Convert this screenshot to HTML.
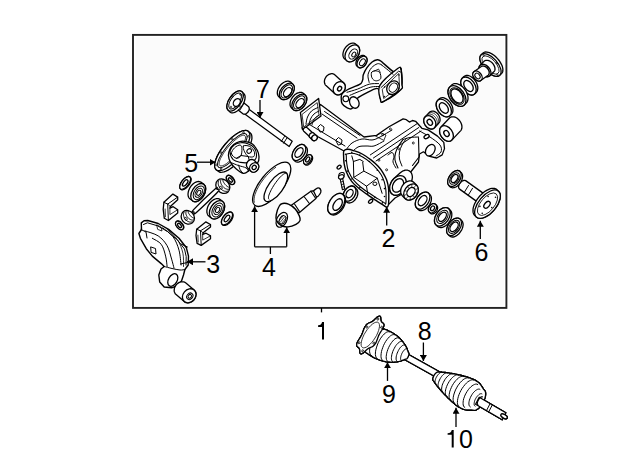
<!DOCTYPE html>
<html><head><meta charset="utf-8">
<style>
html,body{margin:0;padding:0;background:#fff;width:640px;height:471px;overflow:hidden}
svg{display:block}
text{font-family:"Liberation Sans",sans-serif;font-size:25px;fill:#000}
</style></head><body>
<svg width="640" height="471" viewBox="0 0 640 471">
<defs>
<marker id="ah" viewBox="0 0 6 7" refX="6" refY="3.5" markerWidth="6" markerHeight="7" markerUnits="userSpaceOnUse" orient="auto"><path d="M0,0 L6,3.5 L0,7z" fill="#000"/></marker>
</defs>
<rect x="133" y="34.9" width="373.4" height="273" fill="#fff" stroke="#222" stroke-width="1.9"/>
<rect x="135.5" y="37.4" width="368.4" height="268" fill="#fbfbfb" stroke="none"/>
<g id="parts">
<polygon points="479.9,58.5 480,57.3 480.2,56.3 480.7,55.4 481.3,54.7 483.1,53 483.8,52.5 484.7,52.2 485.8,52 486.9,52.1 488.1,52.3 489.4,52.7 490.8,53.3 492.2,54.1 493.6,55 494.9,56.1 496.2,57.3 497.5,58.6 498.7,60 499.7,61.4 500.6,62.9 501.4,64.4 502.1,65.8 502.5,67.2 502.8,68.6 502.9,69.8 502.8,71 502.6,72 502.1,72.9 501.5,73.6 499.7,75.3 499,75.8 498.1,76.1 497,76.3 495.9,76.2 494.7,76 493.4,75.6 492,75 490.6,74.2 489.2,73.2 487.9,72.2 486.6,71 485.3,69.7 484.1,68.3 483.1,66.9 482.2,65.4 481.4,63.9 480.8,62.5 480.3,61.1 480,59.7" fill="#fff" stroke="#000" stroke-width="1.3" stroke-linejoin="round"/>
<ellipse cx="490.5" cy="65" rx="13.8" ry="7" transform="rotate(48 490.5 65)" fill="#fff" stroke="#000" stroke-width="1.3"/>
<ellipse cx="490.5" cy="65" rx="11.3" ry="5.4" transform="rotate(48 490.5 65)" fill="none" stroke="#000" stroke-width="0.8"/>
<ellipse cx="497.4" cy="74.8" rx="0.9" ry="0.7" transform="rotate(48 497.4 74.8)" fill="none" stroke="#000" stroke-width="0.7"/>
<ellipse cx="484.2" cy="66.8" rx="0.9" ry="0.7" transform="rotate(48 484.2 66.8)" fill="none" stroke="#000" stroke-width="0.7"/>
<ellipse cx="483.6" cy="55.2" rx="0.9" ry="0.7" transform="rotate(48 483.6 55.2)" fill="none" stroke="#000" stroke-width="0.7"/>
<ellipse cx="496.8" cy="63.2" rx="0.9" ry="0.7" transform="rotate(48 496.8 63.2)" fill="none" stroke="#000" stroke-width="0.7"/>
<polygon points="479,68.2 479,67.5 479.2,66.8 479.4,66.2 479.8,65.6 480.2,65.2 484.2,61.1 484.7,60.8 485.3,60.5 485.9,60.3 486.6,60.3 487.4,60.3 488.1,60.5 488.9,60.7 489.7,61 490.4,61.5 491.2,62 491.9,62.6 492.6,63.3 493.2,64 493.7,64.8 494.1,65.6 494.5,66.4 494.8,67.2 494.9,68 495,68.8 495,69.5 494.8,70.2 494.6,70.8 494.2,71.4 493.8,71.8 489.8,75.8 489.3,76.2 488.7,76.5 488.1,76.7 487.4,76.7 486.6,76.7 485.9,76.5 485.1,76.3 484.3,76 483.6,75.5 482.8,75 482.1,74.4 481.4,73.7 480.8,73 480.3,72.2 479.9,71.4 479.5,70.6 479.2,69.8 479.1,69" fill="#fff" stroke="#000" stroke-width="1.3" stroke-linejoin="round"/>
<ellipse cx="485" cy="70.5" rx="7.2" ry="4.8" transform="rotate(48 485 70.5)" fill="#fff" stroke="#000" stroke-width="1.3"/>
<path d="M481.8,67.8 L484.8,73.8 M486.5,65.5 L489.5,71.5" fill="none" stroke="#000" stroke-width="0.8" stroke-linejoin="round" stroke-linecap="round"/>
<polygon points="472.8,74.1 472.9,73.5 473,73 473.2,72.5 473.5,72.1 473.9,71.7 480.9,66.7 481.3,66.4 481.8,66.2 482.3,66.1 482.9,66 483.5,66.1 484.1,66.2 484.7,66.4 485.3,66.7 485.9,67 486.4,67.5 487,68 487.5,68.5 487.9,69.1 488.3,69.7 488.6,70.3 488.9,71 489.1,71.6 489.2,72.3 489.2,72.9 489.1,73.5 489,74 488.8,74.5 488.5,74.9 488.1,75.3 481.1,80.3 480.7,80.6 480.2,80.8 479.7,80.9 479.1,81 478.5,80.9 477.9,80.8 477.3,80.6 476.7,80.3 476.1,80 475.6,79.5 475,79 474.5,78.5 474.1,77.9 473.7,77.3 473.4,76.7 473.1,76 472.9,75.4 472.8,74.7" fill="#fff" stroke="#000" stroke-width="1.3" stroke-linejoin="round"/>
<ellipse cx="477.5" cy="76" rx="5.6" ry="3.9" transform="rotate(50 477.5 76)" fill="#fff" stroke="#000" stroke-width="1.3"/>
<ellipse cx="477.5" cy="76" rx="3.2" ry="2.2" transform="rotate(50 477.5 76)" fill="none" stroke="#000" stroke-width="1"/>
<polygon points="460.8,82.8 460.8,81.7 460.9,80.7 461.2,79.8 461.6,79 462.1,78.3 463.7,76.8 464.4,76.2 465.1,75.8 465.9,75.5 466.8,75.5 467.7,75.5 468.7,75.7 469.7,76 470.7,76.5 471.7,77.2 472.7,77.9 473.6,78.8 474.5,79.8 475.3,80.8 476,81.9 476.6,83 477.1,84.2 477.4,85.4 477.7,86.5 477.8,87.6 477.8,88.7 477.6,89.7 477.4,90.6 477,91.4 476.5,92 474.9,93.7 474.2,94.2 473.5,94.6 472.7,94.8 471.8,95 470.9,94.9 469.9,94.7 468.9,94.3 467.9,93.8 466.9,93.2 465.9,92.5 465,91.6 464.1,90.7 463.3,89.6 462.6,88.5 462,87.4 461.5,86.2 461.2,85 460.9,83.9" fill="#fff" stroke="#000" stroke-width="1.3" stroke-linejoin="round"/>
<ellipse cx="468.5" cy="86" rx="10" ry="6.3" transform="rotate(55 468.5 86)" fill="#fff" stroke="#000" stroke-width="1.3"/>
<ellipse cx="468.5" cy="86" rx="6.2" ry="3.9" transform="rotate(55 468.5 86)" fill="#fff" stroke="#000" stroke-width="1.3"/>
<polygon points="448,92.3 448,91 448.2,89.9 448.5,88.8 449,87.9 449.6,87.1 451.6,85.1 452.4,84.5 453.2,84 454.1,83.7 455.2,83.6 456.3,83.7 457.4,83.9 458.6,84.3 459.8,84.8 460.9,85.6 462.1,86.4 463.1,87.4 464.1,88.5 465.1,89.8 465.9,91 466.6,92.4 467.1,93.7 467.6,95.1 467.9,96.4 468,97.7 468,99 467.8,100.1 467.5,101.2 467,102.1 466.4,102.9 464.4,104.9 463.6,105.5 462.8,106 461.9,106.3 460.8,106.4 459.7,106.3 458.6,106.1 457.4,105.7 456.2,105.2 455.1,104.4 453.9,103.6 452.9,102.6 451.9,101.5 450.9,100.2 450.1,99 449.4,97.6 448.9,96.3 448.4,94.9 448.1,93.6" fill="#fff" stroke="#000" stroke-width="1.3" stroke-linejoin="round"/>
<ellipse cx="457" cy="96" rx="11.6" ry="7.4" transform="rotate(55 457 96)" fill="#fff" stroke="#000" stroke-width="1.3"/>
<ellipse cx="457" cy="96" rx="9.3" ry="5.9" transform="rotate(55 457 96)" fill="none" stroke="#000" stroke-width="1"/>
<ellipse cx="457" cy="96" rx="7.9" ry="5" transform="rotate(55 457 96)" fill="#fff" stroke="#000" stroke-width="1.3"/>
<polygon points="436.2,104.9 436.2,103.8 436.4,102.8 436.6,102 437,101.2 437.6,100.5 439.1,99 439.7,98.5 440.4,98.1 441.2,97.8 442.1,97.7 443,97.7 444,97.9 445,98.3 446,98.8 447,99.4 447.9,100.1 448.8,100.9 449.7,101.9 450.5,102.9 451.1,104 451.7,105.1 452.2,106.2 452.6,107.4 452.8,108.5 452.9,109.6 452.9,110.7 452.8,111.7 452.5,112.5 452.1,113.3 451.6,114 450.1,115.5 449.4,116 448.7,116.4 447.9,116.7 447,116.8 446.1,116.8 445.1,116.6 444.1,116.2 443.1,115.8 442.1,115.1 441.2,114.4 440.3,113.6 439.4,112.6 438.6,111.6 437.9,110.5 437.4,109.4 436.9,108.3 436.5,107.1 436.3,106" fill="#fff" stroke="#000" stroke-width="1.3" stroke-linejoin="round"/>
<ellipse cx="443.8" cy="108" rx="9.8" ry="6.3" transform="rotate(55 443.8 108)" fill="#fff" stroke="#000" stroke-width="1.3"/>
<ellipse cx="443.8" cy="108" rx="5.9" ry="3.8" transform="rotate(55 443.8 108)" fill="#fff" stroke="#000" stroke-width="1.3"/>
<polygon points="423.8,120.3 423.8,119.5 424,118.7 424.3,118 424.7,117.4 425.1,116.9 429.3,112.4 429.9,111.9 430.5,111.5 431.2,111.3 431.9,111.2 432.6,111.1 433.4,111.2 434.2,111.4 435,111.8 435.8,112.2 436.5,112.7 437.2,113.3 437.9,114 438.4,114.7 438.9,115.5 439.3,116.3 439.7,117.2 439.9,118.1 440,118.9 440.1,119.8 440,120.6 439.8,121.4 439.5,122.1 439.1,122.7 438.7,123.2 434.5,127.7 433.9,128.2 433.3,128.6 432.6,128.8 431.9,128.9 431.2,129 430.4,128.9 429.6,128.7 428.8,128.3 428,127.9 427.3,127.4 426.6,126.8 425.9,126.1 425.4,125.4 424.9,124.6 424.5,123.8 424.1,122.9 423.9,122 423.8,121.2" fill="#fff" stroke="#000" stroke-width="1.3" stroke-linejoin="round"/>
<ellipse cx="429.8" cy="122.3" rx="7.2" ry="5.4" transform="rotate(55 429.8 122.3)" fill="#fff" stroke="#000" stroke-width="1.3"/>
<ellipse cx="429.8" cy="122.3" rx="3.2" ry="2.4" transform="rotate(55 429.8 122.3)" fill="#fff" stroke="#000" stroke-width="1.3"/>
<path d="M436,126.1 L436.4,125.6 L436.7,125.1 L437,124.4 L437.1,123.8 L437.2,123 L437.2,122.3 L437.2,121.5 L437,120.7 L436.8,119.9 L436.5,119.2 L436.1,118.4 L435.6,117.7 L435.1,117 L434.5,116.4 L433.9,115.9 L433.3,115.4 L432.6,114.9 L431.9,114.6 L431.2,114.4 L430.5,114.2 L429.8,114.1 L429.1,114.2 L428.4,114.3 L427.8,114.5" fill="none" stroke="#000" stroke-width="0.8" stroke-linejoin="round" stroke-linecap="round"/>
<path d="M437.4,124.6 L437.8,124.1 L438.1,123.6 L438.4,122.9 L438.5,122.3 L438.6,121.5 L438.6,120.8 L438.6,120 L438.4,119.2 L438.2,118.4 L437.9,117.7 L437.5,116.9 L437,116.2 L436.5,115.5 L435.9,114.9 L435.3,114.4 L434.7,113.9 L434,113.4 L433.3,113.1 L432.6,112.9 L431.9,112.7 L431.2,112.6 L430.5,112.7 L429.8,112.8 L429.2,113" fill="none" stroke="#000" stroke-width="0.8" stroke-linejoin="round" stroke-linecap="round"/>
<polygon points="439.6,131 439.6,130.1 439.8,129.2 440.1,128.4 440.5,127.7 441,127 449.5,118 450.1,117.5 450.8,117.2 451.6,116.9 452.4,116.8 453.2,116.8 454.1,116.9 455,117.1 455.9,117.5 456.8,118 457.7,118.7 458.5,119.4 459.2,120.2 459.9,121.1 460.5,122 461,123 461.4,124 461.7,125 461.9,126 461.9,127 461.9,127.9 461.7,128.8 461.4,129.6 461,130.3 460.5,130.9 452,139.9 451.4,140.5 450.7,140.8 449.9,141.1 449.1,141.2 448.3,141.2 447.4,141.1 446.5,140.9 445.6,140.5 444.7,140 443.8,139.3 443,138.6 442.3,137.8 441.6,136.9 441,136 440.5,135 440.1,134 439.8,133 439.6,132" fill="#fff" stroke="#000" stroke-width="1.3" stroke-linejoin="round"/>
<ellipse cx="446.5" cy="133.5" rx="8.5" ry="6" transform="rotate(55 446.5 133.5)" fill="#fff" stroke="#000" stroke-width="1.3"/>
<ellipse cx="446.5" cy="133.5" rx="3.2" ry="2.4" transform="rotate(55 446.5 133.5)" fill="#fff" stroke="#000" stroke-width="1.3"/>
<polygon points="342.9,54.6 343,53.5 343.2,52.4 343.5,51.3 343.9,50.2 344.4,49.1 345.1,48.1 345.8,47.1 346.6,46.2 347.5,45.4 348.4,44.7 349.3,44.1 350.3,43.7 351.2,43.3 352.2,43.2 353.1,43.1 354,43.2 354.8,43.5 355.5,43.9 356.1,44.4 358.1,46.1 358.7,46.8 359.1,47.5 359.4,48.4 359.6,49.3 359.7,50.3 359.6,51.4 359.4,52.5 359.1,53.6 358.7,54.7 358.2,55.8 357.5,56.8 356.8,57.8 356,58.7 355.1,59.5 354.2,60.2 353.3,60.8 352.3,61.2 351.4,61.6 350.4,61.7 349.5,61.8 348.6,61.7 347.8,61.4 347.1,61 346.5,60.5 344.5,58.8 343.9,58.1 343.5,57.4 343.2,56.5 343,55.6" fill="#fff" stroke="#000" stroke-width="1.3" stroke-linejoin="round"/>
<ellipse cx="352.3" cy="53.3" rx="9.3" ry="6.3" transform="rotate(-56 352.3 53.3)" fill="#fff" stroke="#000" stroke-width="1.3"/>
<ellipse cx="353.2" cy="54" rx="5.6" ry="3.6" transform="rotate(-56 353.2 54)" fill="none" stroke="#000" stroke-width="1"/>
<ellipse cx="353.8" cy="54.5" rx="2.6" ry="1.7" transform="rotate(-56 353.8 54.5)" fill="none" stroke="#000" stroke-width="1"/>
<polygon points="355.9,63.2 356,62.5 356.1,61.8 356.3,61 356.6,60.2 357,59.5 357.4,58.8 357.9,58.1 358.5,57.5 359.1,57 359.7,56.5 360.4,56.1 361,55.8 361.7,55.5 362.3,55.4 362.9,55.4 363.5,55.5 364.1,55.6 364.6,55.9 365.6,56.7 366,57 366.4,57.5 366.7,58 366.9,58.6 367,59.2 367.1,60 367,60.7 366.9,61.4 366.7,62.2 366.4,63 366,63.7 365.6,64.4 365.1,65.1 364.5,65.7 363.9,66.2 363.3,66.7 362.6,67.1 362,67.5 361.3,67.7 360.7,67.8 360.1,67.8 359.5,67.8 358.9,67.6 358.4,67.3 357.4,66.5 357,66.2 356.6,65.7 356.3,65.2 356.1,64.6 356,64" fill="#fff" stroke="#000" stroke-width="1.3" stroke-linejoin="round"/>
<ellipse cx="362" cy="62" rx="6.4" ry="4.3" transform="rotate(-56 362 62)" fill="#fff" stroke="#000" stroke-width="1.3"/>
<ellipse cx="362.4" cy="62.3" rx="3.8" ry="2.4" transform="rotate(-56 362.4 62.3)" fill="none" stroke="#000" stroke-width="1"/>
<polygon points="324.4,81.3 324.5,80.5 324.7,79.6 325,78.8 325.4,78 325.9,77.2 326.4,76.4 327,75.8 327.7,75.2 328.4,74.7 329.2,74.3 330,74 330.8,73.8 331.6,73.7 332.3,73.7 333.1,73.9 333.8,74.1 334.4,74.5 335,75 343.7,82.9 344.2,83.4 344.6,84 344.9,84.7 345.1,85.5 345.2,86.3 345.3,87.2 345.2,88 345,88.9 344.7,89.7 344.3,90.5 343.8,91.3 343.3,92.1 342.7,92.7 342,93.3 341.3,93.8 340.5,94.2 339.7,94.5 338.9,94.7 338.1,94.8 337.4,94.8 336.6,94.6 335.9,94.4 335.3,94 334.7,93.5 326,85.6 325.5,85.1 325.1,84.5 324.8,83.8 324.6,83 324.4,82.2" fill="#fff" stroke="#000" stroke-width="1.3" stroke-linejoin="round"/>
<ellipse cx="339.2" cy="88.2" rx="7" ry="5.6" transform="rotate(-56 339.2 88.2)" fill="#fff" stroke="#000" stroke-width="1.3"/>
<ellipse cx="339.6" cy="88.6" rx="2.4" ry="1.9" transform="rotate(-56 339.6 88.6)" fill="#fff" stroke="#000" stroke-width="1.3"/>
<path d="M342.3,93.5 C343.3,92.3 344.7,91.3 347,90 C349.3,88.7 354,87 356.3,85.9 C358.6,84.8 359.9,84.7 361,83.6 C362.1,82.5 362.4,81 362.8,79.5 C363.2,78 362.6,76.8 363.3,74.8 C364,72.8 365.3,69.9 366.8,67.8 C368.3,65.7 370.4,63.4 372.1,62 C373.9,60.6 375.9,59.9 377.3,59.7 C378.7,59.5 379.4,60.3 380.3,60.8 C381.2,61.3 380.2,60.6 382.6,62.6 C385,64.5 392,71.4 394.8,72.5 C397.6,73.6 398.4,69.4 399.5,69 C400.6,68.6 401.1,66.9 401.3,70.2 C401.5,73.5 403.6,83.7 400.7,88.8 C397.8,93.9 387.2,99.5 383.8,101.1 C380.4,102.7 381.1,100 380.3,98.2 C379.5,96.4 380,91.6 379.1,90 C378.2,88.4 377.6,88 375,88.8 C372.4,89.6 366.2,93.1 363.3,94.7 C360.4,96.3 358.9,96.7 357.5,98.2 C356.1,99.8 356.2,102.2 355.2,104 C354.2,105.8 353,108 351.7,108.7 C350.4,109.4 348.8,108.7 347.2,107.9 C345.6,107.1 343.1,105.5 342.1,103.7 C341.1,101.9 341.2,98.7 341.2,97 C341.2,95.3 341.3,94.7 342.3,93.5 Z" fill="#fff" stroke="#000" stroke-width="1.4" stroke-linejoin="round" stroke-linecap="round"/>
<path d="M379.9,85.4 C382.8,80.2 394.2,71.1 397.7,68.5 C401.2,65.9 400.3,67.2 401,69.9 C401.7,72.6 401.9,81.1 401.9,84.4 C401.9,87.7 404.1,86.7 401,89.5 C397.9,92.3 386.9,99.8 383.5,101.5 C380.1,103.2 381.1,102.2 380.5,99.5 C379.9,96.8 377,90.6 379.9,85.4 Z" fill="#fff" stroke="#000" stroke-width="1.4" stroke-linejoin="round" stroke-linecap="round"/>
<path d="M381,87.6 L398.6,71.2 L400.5,72" fill="none" stroke="#000" stroke-width="1" stroke-linejoin="round" stroke-linecap="round"/>
<path d="M382.5,89 L398.8,73.5 L399.5,86.5 L384,98.3 Z" fill="none" stroke="#000" stroke-width="0.8" stroke-linejoin="round" stroke-linecap="round"/>
<ellipse cx="393" cy="87.7" rx="7.2" ry="5.8" transform="rotate(-55 393 87.7)" fill="#fff" stroke="#000" stroke-width="1.3"/>
<ellipse cx="393.3" cy="87.6" rx="5" ry="3.8" transform="rotate(-55 393.3 87.6)" fill="none" stroke="#000" stroke-width="1"/>
<ellipse cx="384.6" cy="87" rx="0.7" ry="0.7" transform="rotate(0 384.6 87)" fill="#000" stroke="#000" stroke-width="0"/>
<ellipse cx="399" cy="75" rx="0.7" ry="0.7" transform="rotate(0 399 75)" fill="#000" stroke="#000" stroke-width="0"/>
<ellipse cx="384.3" cy="96.5" rx="0.7" ry="0.7" transform="rotate(0 384.3 96.5)" fill="#000" stroke="#000" stroke-width="0"/>
<ellipse cx="399" cy="88" rx="0.7" ry="0.7" transform="rotate(0 399 88)" fill="#000" stroke="#000" stroke-width="0"/>
<path d="M369.2,82.4 C369,81.2 367.6,77.3 368,74.8 C368.4,72.4 369.9,69.7 371.5,67.8 C373.1,66 375.7,64.3 377.3,63.8 C378.9,63.2 380.5,64.4 381.1,64.6" fill="none" stroke="#000" stroke-width="1" stroke-linejoin="round" stroke-linecap="round"/>
<path d="M381.1,64.6 C382,65.3 384.7,67.4 386.7,69 C388.7,70.6 392,73.4 393.1,74.3" fill="none" stroke="#000" stroke-width="1" stroke-linejoin="round" stroke-linecap="round"/>
<path d="M371.5,72.5 C372,71.4 373.6,70.8 375,70.8 C376.4,70.8 378.7,71.2 379.7,72.5 C380.6,73.8 381.2,77 380.8,78.3 C380.5,79.7 378.5,80.4 377.3,80.7 C376.2,81 374.8,80.7 373.8,80.1 C372.9,79.5 372.1,78.4 371.7,77.2 C371.3,75.9 371,73.6 371.5,72.5 Z" fill="none" stroke="#000" stroke-width="1" stroke-linejoin="round" stroke-linecap="round"/>
<path d="M373.8,71.3 L378.5,69 L380.3,72.5" fill="none" stroke="#000" stroke-width="0.8" stroke-linejoin="round" stroke-linecap="round"/>
<path d="M347,92.3 C348.8,91.8 353.8,90.4 357.5,89.1 C361.2,87.7 365.7,85.1 369.2,84.2 C372.7,83.3 377,83.7 378.5,83.6" fill="none" stroke="#000" stroke-width="1" stroke-linejoin="round" stroke-linecap="round"/>
<path d="M349.9,95.3 C351.6,94.6 356.3,92.5 359.8,91.2 C363.3,89.8 367.7,87.9 370.9,87.1 C374.1,86.3 377.7,86.6 379.1,86.5" fill="none" stroke="#000" stroke-width="1" stroke-linejoin="round" stroke-linecap="round"/>
<ellipse cx="345.8" cy="98.8" rx="2.9" ry="2.9" transform="rotate(0 345.8 98.8)" fill="none" stroke="#000" stroke-width="1.1"/>
<ellipse cx="354.3" cy="102.5" rx="4.5" ry="6" transform="rotate(-25 354.3 102.5)" fill="#fff" stroke="#000" stroke-width="1.3"/>
<polygon points="277.3,93 277.4,92 277.5,91 277.8,89.9 278.2,88.8 278.7,87.8 279.4,86.7 280.1,85.7 280.9,84.8 281.7,83.9 282.6,83.2 283.6,82.5 284.6,82 285.6,81.5 286.5,81.3 287.4,81.1 288.3,81.1 289.2,81.3 289.9,81.6 290.6,82 291.1,82.5 293.1,84.5 293.6,85.2 294,86 294.2,86.8 294.3,87.8 294.2,88.8 294.1,89.8 293.8,90.9 293.4,92 292.9,93 292.2,94.1 291.5,95.1 290.7,96 289.9,96.9 288.9,97.7 288,98.3 287,98.8 286.1,99.2 285.1,99.5 284.1,99.7 283.3,99.7 282.4,99.5 281.7,99.2 281,98.8 280.4,98.3 278.4,96.3 278,95.6 277.6,94.8 277.4,94" fill="#fff" stroke="#000" stroke-width="1.3" stroke-linejoin="round"/>
<ellipse cx="286.8" cy="91.4" rx="9.4" ry="6" transform="rotate(-52 286.8 91.4)" fill="#fff" stroke="#000" stroke-width="1.3"/>
<ellipse cx="286.8" cy="91.4" rx="7.5" ry="4.5" transform="rotate(-52 286.8 91.4)" fill="none" stroke="#000" stroke-width="1"/>
<ellipse cx="287.6" cy="92.2" rx="5.2" ry="3.3" transform="rotate(-52 287.6 92.2)" fill="none" stroke="#000" stroke-width="1.2"/>
<polygon points="290,104.2 290.1,103.2 290.2,102.2 290.5,101.1 290.9,100 291.4,99 292.1,97.9 292.8,96.9 293.6,96 294.4,95.1 295.4,94.3 296.3,93.7 297.3,93.2 298.2,92.8 299.2,92.5 300.1,92.3 301,92.3 301.9,92.5 302.6,92.8 303.3,93.2 303.9,93.7 305.6,95.5 306.1,96.2 306.5,97 306.7,97.8 306.8,98.8 306.7,99.8 306.6,100.8 306.3,101.9 305.9,103 305.4,104 304.7,105.1 304,106.1 303.2,107 302.4,107.9 301.4,108.7 300.5,109.3 299.5,109.8 298.6,110.2 297.6,110.5 296.6,110.7 295.8,110.7 294.9,110.5 294.2,110.2 293.5,109.8 292.9,109.3 291.1,107.5 290.7,106.8 290.3,106 290.1,105.2" fill="#fff" stroke="#000" stroke-width="1.3" stroke-linejoin="round"/>
<ellipse cx="299.3" cy="102.4" rx="9.4" ry="6" transform="rotate(-52 299.3 102.4)" fill="#fff" stroke="#000" stroke-width="1.3"/>
<ellipse cx="299.3" cy="102.4" rx="7.5" ry="4.5" transform="rotate(-52 299.3 102.4)" fill="none" stroke="#000" stroke-width="1"/>
<ellipse cx="300" cy="103.1" rx="5.2" ry="3.3" transform="rotate(-52 300 103.1)" fill="none" stroke="#000" stroke-width="1.2"/>
<polygon points="292.2,155.5 292.3,154.5 292.5,153.4 292.9,152.4 293.3,151.4 293.9,150.3 294.5,149.3 295.2,148.4 296,147.5 296.8,146.8 297.7,146.1 298.6,145.5 299.5,145.1 300.4,144.7 301.2,144.5 302.1,144.5 302.8,144.6 303.5,144.8 304.2,145.1 304.7,145.6 306.3,147.2 306.8,147.8 307.1,148.5 307.3,149.3 307.4,150.2 307.4,151.1 307.3,152.1 307.1,153.2 306.7,154.2 306.3,155.2 305.7,156.3 305.1,157.2 304.4,158.2 303.6,159.1 302.8,159.8 301.9,160.5 301,161.1 300.1,161.5 299.2,161.9 298.4,162.1 297.6,162.1 296.8,162 296.1,161.8 295.4,161.5 294.9,161 293.3,159.4 292.9,158.8 292.5,158.1 292.3,157.3 292.2,156.4" fill="#fff" stroke="#000" stroke-width="1.3" stroke-linejoin="round"/>
<ellipse cx="299" cy="152.5" rx="9" ry="5.5" transform="rotate(-55 299 152.5)" fill="#fff" stroke="#000" stroke-width="1.3"/>
<ellipse cx="299" cy="152.5" rx="5.4" ry="3.3" transform="rotate(-55 299 152.5)" fill="#fff" stroke="#000" stroke-width="1.3"/>
<polygon points="303.6,162 303.6,161.4 303.7,160.8 303.9,160.2 304.1,159.5 304.4,158.9 304.7,158.3 305.1,157.7 305.5,157.1 306,156.6 306.5,156.1 307,155.7 307.5,155.3 308.1,155 308.6,154.8 309.1,154.7 309.6,154.6 310.1,154.7 310.5,154.8 310.9,155 311.2,155.3 312,156.1 312.2,156.4 312.4,156.8 312.5,157.3 312.6,157.8 312.6,158.4 312.5,159 312.4,159.6 312.1,160.3 311.9,160.9 311.5,161.5 311.1,162.1 310.7,162.7 310.2,163.2 309.7,163.7 309.2,164.1 308.7,164.5 308.1,164.8 307.6,165 307.1,165.1 306.6,165.2 306.1,165.1 305.7,165 305.4,164.8 305,164.5 304.2,163.7 304,163.4 303.8,163 303.7,162.5" fill="#fff" stroke="#000" stroke-width="1.3" stroke-linejoin="round"/>
<ellipse cx="307.7" cy="159.5" rx="5.5" ry="3.2" transform="rotate(-55 307.7 159.5)" fill="#fff" stroke="#000" stroke-width="1.3"/>
<ellipse cx="307.7" cy="159.5" rx="2.8" ry="1.6" transform="rotate(-55 307.7 159.5)" fill="#fff" stroke="#000" stroke-width="1.3"/>
<polygon points="244,105.6 292.2,141.2 289.2,146.5 241,111.3" fill="#fff" stroke="#000" stroke-width="1.3" stroke-linejoin="round"/>
<path d="M284.5,136.5 L281.3,141.5 M286.8,138.2 L283.6,143.2" fill="none" stroke="#000" stroke-width="1" stroke-linejoin="round" stroke-linecap="round"/>
<polygon points="234.8,105.9 234.8,105.3 234.9,104.8 235.1,104.2 235.3,103.7 235.6,103.2 235.9,102.7 236.2,102.2 236.7,101.8 237.1,101.4 237.6,101 238,100.8 238.5,100.5 239,100.4 239.5,100.3 239.9,100.3 240.4,100.4 240.8,100.5 241.1,100.7 248.1,106.2 248.5,106.5 248.7,106.8 248.9,107.2 249.1,107.7 249.2,108.1 249.2,108.6 249.2,109.2 249.1,109.7 248.9,110.2 248.7,110.8 248.4,111.3 248.1,111.8 247.8,112.3 247.3,112.8 246.9,113.1 246.4,113.5 246,113.8 245.5,114 245,114.1 244.5,114.2 244.1,114.2 243.6,114.1 243.2,114 242.9,113.8 235.9,108.3 235.5,108 235.3,107.7 235.1,107.3 234.9,106.8 234.8,106.4" fill="#fff" stroke="#000" stroke-width="1.3" stroke-linejoin="round"/>
<ellipse cx="238.5" cy="104.5" rx="4.6" ry="3.2" transform="rotate(-55 238.5 104.5)" fill="#fff" stroke="#000" stroke-width="1.3"/>
<path d="M241.8,101.5 L237.8,108.5 M244,103.3 L240,110.2" fill="none" stroke="#000" stroke-width="0.8" stroke-linejoin="round" stroke-linecap="round"/>
<polygon points="226.9,106.4 227,105.2 227.2,104 227.6,102.7 228,101.4 228.7,100.1 229.4,98.8 230.2,97.6 231.1,96.4 232.1,95.2 233.1,94.2 234.1,93.3 235.2,92.5 236.3,91.9 237.3,91.4 238.3,91.1 239.3,91 240.2,91 241,91.2 241.7,91.6 242.3,92.1 244.1,93.9 244.5,94.6 244.9,95.4 245.1,96.4 245.1,97.4 245,98.6 244.8,99.8 244.4,101.1 244,102.4 243.3,103.7 242.6,105 241.8,106.2 240.9,107.4 239.9,108.6 238.9,109.6 237.9,110.5 236.8,111.3 235.7,111.9 234.7,112.4 233.7,112.7 232.7,112.8 231.8,112.8 231,112.6 230.3,112.2 229.7,111.7 227.9,109.9 227.5,109.2 227.1,108.4 226.9,107.4" fill="#fff" stroke="#000" stroke-width="1.3" stroke-linejoin="round"/>
<ellipse cx="235.1" cy="101" rx="11.5" ry="6" transform="rotate(-55 235.1 101)" fill="#fff" stroke="#000" stroke-width="1.3"/>
<ellipse cx="235.1" cy="101" rx="9.2" ry="4.4" transform="rotate(-55 235.1 101)" fill="none" stroke="#000" stroke-width="1"/>
<ellipse cx="236.8" cy="102.5" rx="4.2" ry="3.1" transform="rotate(-55 236.8 102.5)" fill="#fff" stroke="#000" stroke-width="1.3"/>
<ellipse cx="231" cy="107" rx="0.8" ry="0.8" transform="rotate(0 231 107)" fill="none" stroke="#000" stroke-width="0.7"/>
<ellipse cx="240.5" cy="94.5" rx="0.8" ry="0.8" transform="rotate(0 240.5 94.5)" fill="none" stroke="#000" stroke-width="0.7"/>
<ellipse cx="232.5" cy="96.5" rx="0.8" ry="0.8" transform="rotate(0 232.5 96.5)" fill="none" stroke="#000" stroke-width="0.7"/>
<ellipse cx="239.5" cy="106" rx="0.8" ry="0.8" transform="rotate(0 239.5 106)" fill="none" stroke="#000" stroke-width="0.7"/>
<path d="M320.5,104.5 L356,131 L364,137 L376.6,135.3 L389,126.8 L403.1,118.9 L406.3,119.7 L409.4,122.1 L412.5,120.5 L415.6,121.3 L421.9,128.3 L428.1,129.9 L437.5,136.1 L443.8,142.4 L444.5,148.6 L442.2,154.9 L436.7,158 L429.7,156.4 L423.4,151.8 L419.5,154 L418.5,162 L408,175.5 L404,193 L395,198 L386.9,206.1 L377.5,200.4 L362.8,188.9 L351.3,179.1 L344.5,163.6 L344,151 L302,128 Z" fill="#fff" stroke="#000" stroke-width="1.3" stroke-linejoin="round" stroke-linecap="round"/>
<path d="M304.5,121.5 L345,146 M322,114 L357,138 M324.5,111.5 L360,135.5" fill="none" stroke="#000" stroke-width="1" stroke-linejoin="round" stroke-linecap="round"/>
<path d="M318,127 L320.5,124.5 L324,127 L323.5,131 L320.5,132 Z" fill="none" stroke="#000" stroke-width="1" stroke-linejoin="round" stroke-linecap="round"/>
<path d="M336,140 L338.5,137.5 L342,140 L341.5,144 L338.5,145 Z" fill="none" stroke="#000" stroke-width="1" stroke-linejoin="round" stroke-linecap="round"/>
<path d="M300.4,112.4 L318.6,98.4 L321,116 L302.5,129.5 Z" fill="#fff" stroke="#000" stroke-width="1.3" stroke-linejoin="round" stroke-linecap="round"/>
<path d="M302.3,114.2 L317.2,102.6 L319,115.2 L304,126.8 Z" fill="none" stroke="#000" stroke-width="0.8" stroke-linejoin="round" stroke-linecap="round"/>
<path d="M306,124 C306.2,122.8 306.6,119.2 307.5,117 C308.4,114.8 309.8,112.6 311.5,111 C313.2,109.4 316.9,108.1 318,107.5" fill="none" stroke="#000" stroke-width="1" stroke-linejoin="round" stroke-linecap="round"/>
<path d="M309,125 C309.2,124 309.7,120.8 310.5,119 C311.3,117.2 312.6,115.3 314,114 C315.4,112.7 318.2,111.5 319,111" fill="none" stroke="#000" stroke-width="1" stroke-linejoin="round" stroke-linecap="round"/>
<path d="M312,125 C312.2,124.2 312.8,121.8 313.5,120.5 C314.2,119.2 315,117.9 316,117 C317,116.1 318.9,115.3 319.5,115" fill="none" stroke="#000" stroke-width="0.8" stroke-linejoin="round" stroke-linecap="round"/>
<polygon points="303.3,130 303.3,129.7 303.3,129.4 303.4,129.1 303.5,128.8 303.7,128.6 303.9,128.3 304.1,128.1 304.3,127.9 304.6,127.7 304.8,127.5 305.1,127.4 305.4,127.3 305.7,127.3 306,127.3 306.3,127.3 306.5,127.4 306.8,127.5 307,127.6 307.2,127.8 314.2,134.3 314.4,134.5 314.5,134.7 314.6,135 314.7,135.2 314.7,135.5 314.7,135.8 314.7,136.1 314.6,136.4 314.5,136.7 314.3,136.9 314.1,137.2 313.9,137.4 313.7,137.6 313.4,137.8 313.2,138 312.9,138.1 312.6,138.2 312.3,138.2 312,138.2 311.7,138.2 311.5,138.1 311.2,138 311,137.9 310.8,137.7 303.8,131.2 303.6,131 303.5,130.8 303.4,130.5 303.3,130.3" fill="#fff" stroke="#000" stroke-width="1.3" stroke-linejoin="round"/>
<ellipse cx="312.5" cy="136" rx="2.4" ry="2" transform="rotate(-45 312.5 136)" fill="#fff" stroke="#000" stroke-width="1.3"/>
<polygon points="309.2,135.7 309.2,135.3 309.4,135 309.5,134.6 309.7,134.3 309.9,133.9 310.2,133.7 310.4,133.4 310.8,133.2 311.1,133 311.5,132.8 311.8,132.8 312.2,132.7 312.6,132.7 312.9,132.7 313.3,132.8 313.6,133 313.9,133.2 314.1,133.4 316.6,135.7 316.8,135.9 317,136.2 317.2,136.5 317.3,136.9 317.3,137.2 317.3,137.6 317.2,138 317.1,138.3 317,138.7 316.8,139 316.6,139.3 316.3,139.6 316.1,139.9 315.7,140.1 315.4,140.3 315,140.4 314.7,140.6 314.3,140.6 313.9,140.6 313.6,140.6 313.2,140.5 312.9,140.3 312.6,140.1 312.4,139.9 309.9,137.6 309.7,137.4 309.5,137.1 309.3,136.8 309.2,136.4 309.2,136.1" fill="#fff" stroke="#000" stroke-width="1.3" stroke-linejoin="round"/>
<ellipse cx="314.5" cy="137.8" rx="3" ry="2.6" transform="rotate(-45 314.5 137.8)" fill="#fff" stroke="#000" stroke-width="1.3"/>
<path d="M346,150 C347,148.8 349.3,144.8 352,143 C354.7,141.2 358.7,139.5 362,139 C365.3,138.5 369,140.3 372,140 C375,139.7 376.7,138.7 380,137 C383.3,135.3 390,131.2 392,130" fill="none" stroke="#000" stroke-width="1" stroke-linejoin="round" stroke-linecap="round"/>
<path d="M350,154 C351.3,152.8 355.3,148.3 358,147 C360.7,145.7 363.3,146.2 366,146 C368.7,145.8 371,146.8 374,146 C377,145.2 382.3,141.8 384,141" fill="none" stroke="#000" stroke-width="1" stroke-linejoin="round" stroke-linecap="round"/>
<path d="M370.3,154.9 L417.2,123.6 M373.4,158 L418.8,127.5 M376,161 L421,131" fill="none" stroke="#000" stroke-width="1" stroke-linejoin="round" stroke-linecap="round"/>
<path d="M376,136 L381,133 L386,135 L384,140 Z" fill="none" stroke="#000" stroke-width="0.8" stroke-linejoin="round" stroke-linecap="round"/>
<path d="M419.5,131 C421.2,132 426.6,134.7 430,137 C433.4,139.3 438.2,142.5 440,145 C441.8,147.5 441.7,150.2 441,152 C440.3,153.8 436.8,155.3 436,156" fill="none" stroke="#000" stroke-width="1" stroke-linejoin="round" stroke-linecap="round"/>
<ellipse cx="430.3" cy="150.2" rx="6.2" ry="4.3" transform="rotate(-58 430.3 150.2)" fill="#fff" stroke="#000" stroke-width="1.3"/>
<ellipse cx="426.6" cy="136.6" rx="2.8" ry="1.7" transform="rotate(-30 426.6 136.6)" fill="#fff" stroke="#000" stroke-width="1.3"/>
<path d="M403,139.5 C402.2,140.6 399.8,143.8 398.5,146 C397.2,148.2 396.1,150.7 395.5,153 C394.9,155.3 394.6,157.5 395,160 C395.4,162.5 397.5,166.7 398,168" fill="none" stroke="#000" stroke-width="1.1" stroke-linejoin="round" stroke-linecap="round"/>
<path d="M406.5,138.2 C405.8,139.3 403.2,142.7 402,145 C400.8,147.3 399.9,149.7 399.5,152 C399.1,154.3 399.1,156.7 399.5,159 C399.9,161.3 401.6,164.8 402,166" fill="none" stroke="#000" stroke-width="1" stroke-linejoin="round" stroke-linecap="round"/>
<path d="M403,139.5 C404.2,139.2 407.4,137.9 410,137.5 C412.6,137.1 417.1,137.1 418.5,137" fill="none" stroke="#000" stroke-width="1" stroke-linejoin="round" stroke-linecap="round"/>
<path d="M418.5,137.5 L419,157 L412.5,165.5" fill="none" stroke="#000" stroke-width="1.1" stroke-linejoin="round" stroke-linecap="round"/>
<path d="M388,155 C388.7,154.6 391,152.3 392,152.5 C393,152.7 393.8,154.4 394,156 C394.2,157.6 392.7,160 393,162 C393.3,164 395.5,167 396,168" fill="none" stroke="#000" stroke-width="1" stroke-linejoin="round" stroke-linecap="round"/>
<polygon points="389.6,188 389.8,186.7 390,185.4 390.4,184.1 390.9,182.9 391.5,181.7 392.2,180.5 393.1,179.4 394,178.5 400,173.1 401,172.2 402,171.5 403.1,170.9 404.2,170.5 405.3,170.2 406.4,170.2 407.4,170.2 408.4,170.5 409.2,170.9 410.1,171.5 410.8,172.2 411.3,173 411.8,174 412.1,175.1 412.3,176.2 412.4,177.4 412.2,178.7 412,180 411.6,181.3 411.1,182.5 410.5,183.8 409.8,184.9 408.9,186 408,186.9 402,192.3 401,193.2 400,193.9 398.9,194.5 397.8,194.9 396.7,195.2 395.6,195.2 394.6,195.2 393.6,194.9 392.8,194.5 391.9,193.9 391.2,193.2 390.7,192.4 390.2,191.4 389.9,190.3 389.7,189.2" fill="#fff" stroke="#000" stroke-width="1.3" stroke-linejoin="round"/>
<ellipse cx="398" cy="185.4" rx="10.5" ry="7.5" transform="rotate(-60 398 185.4)" fill="#fff" stroke="#000" stroke-width="1.3"/>
<ellipse cx="398" cy="185.4" rx="7.3" ry="5" transform="rotate(-60 398 185.4)" fill="#fff" stroke="#000" stroke-width="1.3"/>
<path d="M343.9,150.8 C344.6,149.7 346.1,149.2 347.9,149.2 C349.6,149.2 351.8,150 354.2,150.8 C356.6,151.6 359.4,152.5 362.2,154 C365,155.5 368.3,157.9 371,159.9 C373.6,161.9 376.1,164.2 378.1,166.3 C380.1,168.4 381.5,170.4 382.9,172.6 C384.3,174.9 385.6,177.3 386.6,179.8 C387.5,182.3 388.1,185.1 388.5,187.8 C388.8,190.4 388.8,192.9 388.8,195.7 C388.8,198.5 388.8,202.6 388.5,204.5 C388.2,206.4 387.7,207.1 386.9,207.2 C386.1,207.3 385.3,206.3 383.7,205.3 C382.1,204.3 380,203 377.3,201.3 C374.7,199.6 371,197.2 367.8,194.9 C364.6,192.7 361,190.2 358.2,187.8 C355.4,185.4 353,183.3 351.1,180.6 C349.1,178 347.4,174.6 346.3,171.8 C345.1,169.1 344.7,166.5 344.2,163.9 C343.8,161.2 343.6,158.1 343.6,155.9 C343.5,153.7 343.2,151.9 343.9,150.8 Z" fill="#fff" stroke="#000" stroke-width="1.4" stroke-linejoin="round" stroke-linecap="round"/>
<path d="M346.8,154 C348.1,153.6 351.7,153.1 354.2,153.5 C356.8,154 359.5,155.3 362.2,156.7 C364.9,158.2 367.8,160.3 370.2,162.3 C372.5,164.3 374.7,166.5 376.5,168.7 C378.4,170.8 380,172.9 381.3,175 C382.6,177.2 383.4,179.3 384.2,181.7 C384.9,184.1 385.4,186.8 385.8,189.4 C386.1,192 386.1,194.9 386.1,197.3 C386.1,199.7 386,202.8 385.8,203.7 C385.5,204.6 385.8,203.7 384.5,202.9 C383.2,202.1 380.6,200.5 378.1,198.9 C375.6,197.3 372.3,195.3 369.4,193.3 C366.4,191.4 363.3,189.2 360.6,187 C358,184.7 355.4,182.3 353.4,179.8 C351.4,177.3 349.8,174.5 348.7,171.8 C347.5,169.2 347.1,166.5 346.8,163.9 C346.4,161.2 346.3,157.6 346.3,155.9 C346.3,154.3 345.4,154.4 346.8,154 Z" fill="none" stroke="#000" stroke-width="1.1" stroke-linejoin="round" stroke-linecap="round"/>
<path d="M351.8,155.9 L353.4,161.5 L359.8,159.4 L363.3,161.5" fill="none" stroke="#000" stroke-width="1" stroke-linejoin="round" stroke-linecap="round"/>
<path d="M353.4,161.5 L353.8,177.4 L363.8,171.1 L377.3,178.2 L366.5,186.2 L353.8,177.4" fill="none" stroke="#000" stroke-width="1" stroke-linejoin="round" stroke-linecap="round"/>
<path d="M363.8,171.1 L362.7,162.3" fill="none" stroke="#000" stroke-width="1" stroke-linejoin="round" stroke-linecap="round"/>
<path d="M366.5,186.2 L367.8,194.1" fill="none" stroke="#000" stroke-width="1" stroke-linejoin="round" stroke-linecap="round"/>
<path d="M377.3,178.2 L382.1,193.3" fill="none" stroke="#000" stroke-width="1" stroke-linejoin="round" stroke-linecap="round"/>
<ellipse cx="374.9" cy="183.8" rx="2" ry="1.7" transform="rotate(0 374.9 183.8)" fill="none" stroke="#000" stroke-width="1"/>
<ellipse cx="345.5" cy="154.3" rx="0.8" ry="0.8" transform="rotate(0 345.5 154.3)" fill="#000" stroke="#000" stroke-width="0"/>
<ellipse cx="345.5" cy="160.7" rx="0.8" ry="0.8" transform="rotate(0 345.5 160.7)" fill="#000" stroke="#000" stroke-width="0"/>
<ellipse cx="347.4" cy="171.1" rx="0.8" ry="0.8" transform="rotate(0 347.4 171.1)" fill="#000" stroke="#000" stroke-width="0"/>
<ellipse cx="351.8" cy="179" rx="0.8" ry="0.8" transform="rotate(0 351.8 179)" fill="#000" stroke="#000" stroke-width="0"/>
<ellipse cx="359.8" cy="187.8" rx="0.8" ry="0.8" transform="rotate(0 359.8 187.8)" fill="#000" stroke="#000" stroke-width="0"/>
<ellipse cx="374.9" cy="197.3" rx="0.8" ry="0.8" transform="rotate(0 374.9 197.3)" fill="#000" stroke="#000" stroke-width="0"/>
<ellipse cx="382.4" cy="202.9" rx="0.8" ry="0.8" transform="rotate(0 382.4 202.9)" fill="#000" stroke="#000" stroke-width="0"/>
<ellipse cx="384.5" cy="196.5" rx="0.8" ry="0.8" transform="rotate(0 384.5 196.5)" fill="#000" stroke="#000" stroke-width="0"/>
<ellipse cx="384.5" cy="188.6" rx="0.8" ry="0.8" transform="rotate(0 384.5 188.6)" fill="#000" stroke="#000" stroke-width="0"/>
<ellipse cx="382.1" cy="179.8" rx="0.8" ry="0.8" transform="rotate(0 382.1 179.8)" fill="#000" stroke="#000" stroke-width="0"/>
<ellipse cx="377.3" cy="170.3" rx="0.8" ry="0.8" transform="rotate(0 377.3 170.3)" fill="#000" stroke="#000" stroke-width="0"/>
<ellipse cx="369.4" cy="161.5" rx="0.8" ry="0.8" transform="rotate(0 369.4 161.5)" fill="#000" stroke="#000" stroke-width="0"/>
<ellipse cx="359.8" cy="155.1" rx="0.8" ry="0.8" transform="rotate(0 359.8 155.1)" fill="#000" stroke="#000" stroke-width="0"/>
<ellipse cx="351.8" cy="152.4" rx="0.8" ry="0.8" transform="rotate(0 351.8 152.4)" fill="#000" stroke="#000" stroke-width="0"/>
<ellipse cx="390.4" cy="129" rx="1" ry="1" transform="rotate(0 390.4 129)" fill="none" stroke="#000" stroke-width="0.8"/>
<ellipse cx="382.7" cy="134.7" rx="1" ry="1" transform="rotate(0 382.7 134.7)" fill="none" stroke="#000" stroke-width="0.8"/>
<ellipse cx="413.3" cy="143" rx="1" ry="1" transform="rotate(0 413.3 143)" fill="none" stroke="#000" stroke-width="0.8"/>
<ellipse cx="398.7" cy="148.8" rx="1" ry="1" transform="rotate(0 398.7 148.8)" fill="none" stroke="#000" stroke-width="0.8"/>
<ellipse cx="378.9" cy="160.2" rx="1" ry="1" transform="rotate(0 378.9 160.2)" fill="none" stroke="#000" stroke-width="0.8"/>
<ellipse cx="386.6" cy="169.8" rx="1" ry="1" transform="rotate(0 386.6 169.8)" fill="none" stroke="#000" stroke-width="0.8"/>
<ellipse cx="339.1" cy="167.1" rx="2.3" ry="1.5" transform="rotate(-40 339.1 167.1)" fill="#fff" stroke="#000" stroke-width="1.3"/>
<polygon points="340.2,179 342.6,178.4 344.8,189 342.4,189.6" fill="#fff" stroke="#000" stroke-width="1.1" stroke-linejoin="round"/>
<path d="M340.8,182 L343.2,181.4 M341.4,184.6 L343.8,184 M342,187.2 L344.4,186.6" fill="none" stroke="#000" stroke-width="0.8" stroke-linejoin="round" stroke-linecap="round"/>
<polygon points="338.5,177.2 338.5,177 338.9,174.8 339,174.5 339.1,174.2 339.3,173.9 339.5,173.7 339.7,173.4 340,173.2 340.3,173 340.6,172.9 340.9,172.7 341.3,172.6 341.6,172.5 342,172.5 342.3,172.5 342.7,172.5 343,172.6 343.3,172.7 343.5,172.8 343.8,173 344,173.2 344.1,173.4 344.2,173.6 344.3,173.9 344.3,174.2 344.3,174.4 343.9,176.6 343.8,176.9 343.7,177.2 343.5,177.4 343.3,177.7 343.1,177.9 342.8,178.2 342.5,178.4 342.2,178.5 341.9,178.7 341.5,178.8 341.2,178.9 340.8,178.9 340.5,178.9 340.1,178.9 339.8,178.8 339.5,178.7 339.3,178.6 339,178.4 338.8,178.2 338.7,178 338.6,177.8 338.5,177.5" fill="#fff" stroke="#000" stroke-width="1.1" stroke-linejoin="round"/>
<ellipse cx="341.2" cy="176.8" rx="2.8" ry="2" transform="rotate(-20 341.2 176.8)" fill="#fff" stroke="#000" stroke-width="1.1"/>
<polygon points="343.2,196.4 343.2,195.5 343.3,194.5 343.6,193.5 343.9,192.5 344.3,191.6 344.9,190.6 345.5,189.8 346.1,188.9 346.9,188.2 347.7,187.6 348.5,187 349.3,186.6 350.2,186.3 351,186.1 351.8,186 352.6,186.1 353.3,186.3 353.9,186.7 354.5,187.1 356.3,188.9 356.8,189.4 357.2,190.1 357.5,190.9 357.7,191.7 357.8,192.6 357.8,193.5 357.7,194.5 357.4,195.5 357.1,196.5 356.7,197.4 356.1,198.4 355.5,199.2 354.9,200.1 354.1,200.8 353.3,201.4 352.5,202 351.7,202.4 350.8,202.7 350,202.9 349.2,203 348.4,202.9 347.7,202.7 347.1,202.3 346.5,201.9 344.7,200.1 344.2,199.6 343.8,198.9 343.5,198.1 343.3,197.3" fill="#fff" stroke="#000" stroke-width="1.3" stroke-linejoin="round"/>
<ellipse cx="349.6" cy="193.6" rx="8.2" ry="5.6" transform="rotate(-58 349.6 193.6)" fill="#fff" stroke="#000" stroke-width="1.3"/>
<ellipse cx="349.6" cy="193.6" rx="4.5" ry="3.1" transform="rotate(-58 349.6 193.6)" fill="#fff" stroke="#000" stroke-width="1.3"/>
<polygon points="327.7,207.9 327.8,206.7 328.1,205.3 328.5,204 329,202.6 329.7,201.3 330.4,200 331.3,198.8 332.2,197.6 333.3,196.6 334.4,195.7 335.5,194.9 336.6,194.3 337.7,193.8 338.8,193.5 339.8,193.4 340.8,193.5 341.7,193.7 342.6,194.2 343.3,194.7 344,195.5 344.6,196.3 345,197.2 345.4,198.2 345.5,199.3 345.6,200.5 345.5,201.8 345.2,203.1 344.8,204.4 344.3,205.8 343.6,207.1 342.9,208.4 342,209.6 341.1,210.8 340,211.8 338.9,212.7 337.8,213.5 336.7,214.1 335.6,214.6 334.5,214.9 333.5,215 332.5,214.9 331.6,214.7 330.7,214.2 330,213.7 329.3,212.9 328.7,212.1 328.3,211.2 327.9,210.2 327.8,209.1" fill="#fff" stroke="#000" stroke-width="1.3" stroke-linejoin="round"/>
<ellipse cx="336.3" cy="203.8" rx="11.5" ry="7" transform="rotate(-57 336.3 203.8)" fill="#fff" stroke="#000" stroke-width="1.3"/>
<ellipse cx="337.6" cy="204.6" rx="6.5" ry="3.8" transform="rotate(-57 337.6 204.6)" fill="#fff" stroke="#000" stroke-width="1.3"/>
<ellipse cx="370.6" cy="201.3" rx="2.4" ry="1.5" transform="rotate(-40 370.6 201.3)" fill="#fff" stroke="#000" stroke-width="1.3"/>
<polygon points="214.7,166 214.7,164.1 215.1,162.1 215.8,159.8 216.7,157.4 218,154.9 219.4,152.3 221.1,149.7 223,147.1 225,144.5 227.2,142.1 229.4,139.7 231.7,137.6 234,135.7 236.3,134.1 238.5,132.7 240.6,131.7 242.6,131 244.4,130.6 245.9,130.5 247.3,130.8 248.4,131.4 250.4,133.1 251.2,134 251.7,135.3 251.9,136.8 251.9,138.7 251.5,140.7 250.8,143 249.9,145.4 248.6,147.9 247.2,150.5 245.5,153.1 243.6,155.8 241.6,158.3 239.4,160.8 237.2,163.1 234.9,165.2 232.6,167.1 230.3,168.7 228.1,170.1 226,171.1 224,171.8 222.2,172.2 220.7,172.3 219.3,172 218.2,171.3 216.2,169.8 215.4,168.8 214.9,167.5" fill="#fff" stroke="#000" stroke-width="1.3" stroke-linejoin="round"/>
<ellipse cx="232.3" cy="150.6" rx="25" ry="9.5" transform="rotate(-50 232.3 150.6)" fill="#fff" stroke="#000" stroke-width="1.3"/>
<ellipse cx="232.3" cy="150.6" rx="21.5" ry="6.8" transform="rotate(-50 232.3 150.6)" fill="none" stroke="#000" stroke-width="1"/>
<ellipse cx="232.3" cy="150.6" rx="19.5" ry="5.5" transform="rotate(-50 232.3 150.6)" fill="none" stroke="#000" stroke-width="0.7"/>
<ellipse cx="248.3" cy="136.3" rx="0.9" ry="0.7" transform="rotate(-50 248.3 136.3)" fill="none" stroke="#000" stroke-width="0.7"/>
<ellipse cx="243.7" cy="148.7" rx="0.9" ry="0.7" transform="rotate(-50 243.7 148.7)" fill="none" stroke="#000" stroke-width="0.7"/>
<ellipse cx="232.4" cy="162.2" rx="0.9" ry="0.7" transform="rotate(-50 232.4 162.2)" fill="none" stroke="#000" stroke-width="0.7"/>
<ellipse cx="221" cy="168.9" rx="0.9" ry="0.7" transform="rotate(-50 221 168.9)" fill="none" stroke="#000" stroke-width="0.7"/>
<ellipse cx="216.3" cy="164.9" rx="0.9" ry="0.7" transform="rotate(-50 216.3 164.9)" fill="none" stroke="#000" stroke-width="0.7"/>
<ellipse cx="220.9" cy="152.5" rx="0.9" ry="0.7" transform="rotate(-50 220.9 152.5)" fill="none" stroke="#000" stroke-width="0.7"/>
<ellipse cx="232.2" cy="139" rx="0.9" ry="0.7" transform="rotate(-50 232.2 139)" fill="none" stroke="#000" stroke-width="0.7"/>
<ellipse cx="243.6" cy="132.3" rx="0.9" ry="0.7" transform="rotate(-50 243.6 132.3)" fill="none" stroke="#000" stroke-width="0.7"/>
<path d="M229.6,150.1 C230.4,148.2 232,146 233.7,144.6 C235.4,143.2 237.6,142.1 239.6,141.6 C241.7,141.1 243.9,141.1 246,141.6 C248.1,142 250.5,142.6 252.4,144.1 C254.3,145.6 256.3,148.4 257.4,150.5 C258.5,152.7 258.9,154.9 259,156.9 C259,158.9 259,161 257.9,162.4 C256.8,163.8 254.1,163.6 252.4,165.1 C250.7,166.7 249.4,170.2 247.8,171.5 C246.3,172.9 245.2,173.8 243.3,173.4 C241.3,172.9 238.1,170.6 236,168.8 C233.8,167 231.7,164.5 230.5,162.4 C229.2,160.3 228.6,158.1 228.5,156 C228.3,153.9 228.7,152 229.6,150.1 Z" fill="#fff" stroke="#000" stroke-width="1.3" stroke-linejoin="round" stroke-linecap="round"/>
<path d="M230,151 C230.2,148.5 232.4,146.4 234.1,145 C235.9,143.7 238.2,143 240.5,142.8 C242.8,142.5 245.5,142.8 247.8,143.7 C250.1,144.5 252.8,146 254.2,147.8 C255.7,149.5 256.4,152.2 256.5,154.2 C256.7,156.2 256.3,158.3 255.1,159.7 C254,161 252.1,161.9 249.7,162.4 C247.2,162.9 243.3,162.9 240.5,162.4 C237.8,161.9 235,161.6 233.2,159.7 C231.5,157.8 229.9,153.4 230,151 Z" fill="none" stroke="#000" stroke-width="1.1" stroke-linejoin="round" stroke-linecap="round"/>
<path d="M231.4,153.7 C231.1,152 233.1,149.2 234.6,147.8 C236,146.3 238.9,144.9 240.1,145 C241.3,145.2 241.7,146.9 241.9,148.7 C242,150.4 241.9,153.9 241,155.5 C240.1,157.1 238,158.6 236.4,158.3 C234.8,158 231.7,155.5 231.4,153.7 Z" fill="none" stroke="#000" stroke-width="1" stroke-linejoin="round" stroke-linecap="round"/>
<path d="M243.3,146 C244.1,145 247.8,145.5 249.7,146.4 C251.5,147.3 253.5,149.8 254.2,151.4 C254.9,153.1 254.8,155.6 253.8,156.5 C252.8,157.3 249.8,157.2 248.3,156.5 C246.8,155.7 245.5,153.6 244.6,151.9 C243.8,150.1 242.4,146.9 243.3,146 Z" fill="none" stroke="#000" stroke-width="1" stroke-linejoin="round" stroke-linecap="round"/>
<ellipse cx="249.2" cy="151" rx="2.5" ry="2" transform="rotate(-40 249.2 151)" fill="none" stroke="#000" stroke-width="1"/>
<path d="M236.4,158.3 L241,155.5 L248.3,156.5 L249.7,162.4" fill="none" stroke="#000" stroke-width="1" stroke-linejoin="round" stroke-linecap="round"/>
<path d="M230.5,162.4 C231.8,162.9 236.1,164.7 238.7,165.6 C241.3,166.5 244.3,166.9 246,167.9 C247.7,168.9 248.3,170.9 248.7,171.5" fill="none" stroke="#000" stroke-width="1" stroke-linejoin="round" stroke-linecap="round"/>
<path d="M238.7,165.1 C238.9,165.9 239.3,168.3 240.1,169.7 C240.8,171.1 242.7,172.7 243.3,173.4" fill="none" stroke="#000" stroke-width="1" stroke-linejoin="round" stroke-linecap="round"/>
<polygon points="246.4,165 246.5,164.4 246.6,163.8 246.8,163.2 247.1,162.6 247.4,162 247.8,161.5 248.2,161 248.7,160.6 249.3,160.2 249.8,159.9 250.4,159.7 251,159.6 251.6,159.5 252.2,159.5 252.7,159.6 253.3,159.8 253.8,160.1 254.2,160.4 254.6,160.8 257.8,163.9 258.1,164.4 258.4,164.9 258.6,165.4 258.7,166 258.8,166.6 258.7,167.2 258.6,167.8 258.4,168.4 258.1,169 257.8,169.6 257.4,170.1 257,170.6 256.5,171 255.9,171.4 255.4,171.7 254.8,171.9 254.2,172 253.6,172.1 253,172.1 252.5,172 251.9,171.8 251.4,171.6 251,171.2 250.6,170.8 247.4,167.7 247.1,167.2 246.8,166.7 246.6,166.2 246.5,165.6" fill="#fff" stroke="#000" stroke-width="1.3" stroke-linejoin="round"/>
<ellipse cx="254.2" cy="167.4" rx="5" ry="4.2" transform="rotate(-50 254.2 167.4)" fill="#fff" stroke="#000" stroke-width="1.3"/>
<ellipse cx="254.2" cy="167.4" rx="2.3" ry="1.9" transform="rotate(-50 254.2 167.4)" fill="#fff" stroke="#000" stroke-width="1.3"/>
<ellipse cx="271.7" cy="184.3" rx="27" ry="11.2" transform="rotate(-51 271.7 184.3)" fill="#fff" stroke="#000" stroke-width="1.3"/>
<path d="M254.3,202.3 L254,200.7 L254.1,198.8 L254.4,196.7 L255,194.3 L256,191.8 L257.2,189.2 L258.6,186.5 L260.3,183.7 L262.2,181 L264.2,178.3 L266.4,175.7 L268.7,173.3 L271,171.1 L273.4,169.1 L275.7,167.4" fill="none" stroke="#000" stroke-width="0.8" stroke-linejoin="round" stroke-linecap="round"/>
<ellipse cx="275.8" cy="186.8" rx="17.5" ry="7.2" transform="rotate(-54 275.8 186.8)" fill="#fff" stroke="#000" stroke-width="1.3"/>
<path d="M268.9,199.1 L268.6,198.7 L268.5,198.1 L268.5,197.3 L268.6,196.3 L268.9,195.2 L269.4,193.9 L270,192.4 L270.7,190.9 L271.5,189.3 L272.5,187.6 L273.5,185.9 L274.6,184.2 L275.8,182.5 L277,180.9 L278.2,179.4 L279.3,178 L280.5,176.8 L281.6,175.7 L282.7,174.8 L283.6,174.1 L284.5,173.6 L285.2,173.3 L285.8,173.2" fill="none" stroke="#000" stroke-width="1" stroke-linejoin="round" stroke-linecap="round"/>
<path d="M312.4,192.5 C312.3,191.2 314.8,189.7 315.9,189 C317,188.2 318.1,187.7 318.9,188 C319.7,188.2 320.7,189.5 320.9,190.5 C321.1,191.5 320.7,192.9 319.9,194 C319.2,195.1 317.7,197.2 316.4,197 C315.2,196.7 312.5,193.8 312.4,192.5 Z" fill="#fff" stroke="#000" stroke-width="1.3" stroke-linejoin="round" stroke-linecap="round"/>
<path d="M291,205.5 L310.9,191.2 L313.4,190.8 L316.4,197 L315.9,198.5 L298.9,212.9 Z" fill="#fff" stroke="#000" stroke-width="1.3" stroke-linejoin="round" stroke-linecap="round"/>
<path d="M294.5,204 L299.4,211.4" fill="none" stroke="#000" stroke-width="1.1" stroke-linejoin="round" stroke-linecap="round"/>
<path d="M304.4,197 L309.4,203.5" fill="none" stroke="#000" stroke-width="1.1" stroke-linejoin="round" stroke-linecap="round"/>
<path d="M310.9,191.2 L315.4,198" fill="none" stroke="#000" stroke-width="1.1" stroke-linejoin="round" stroke-linecap="round"/>
<path d="M276.2,214.9 C276.6,212.6 277.9,208.4 279,206.5 C280,204.5 280.9,203.8 282.5,203.5 C284.1,203.1 286.4,203.2 288.5,204.2 C290.6,205.1 293.4,207.1 295.2,209 C296.9,210.8 298.3,213.5 299.1,215.4 C300,217.4 300.7,218.9 300.1,220.4 C299.6,221.9 298,223.3 296,224.4 C293.9,225.5 290.5,226.7 288,226.9 C285.5,227.1 282.9,226.5 281,225.4 C279.1,224.3 277.3,222.2 276.5,220.4 C275.7,218.7 275.8,217.3 276.2,214.9 Z" fill="#fff" stroke="#000" stroke-width="1.4" stroke-linejoin="round" stroke-linecap="round"/>
<ellipse cx="281.8" cy="219.8" rx="8" ry="5" transform="rotate(-62 281.8 219.8)" fill="none" stroke="#000" stroke-width="1.2"/>
<ellipse cx="282.5" cy="219.8" rx="4.5" ry="2.9" transform="rotate(-62 282.5 219.8)" fill="none" stroke="#000" stroke-width="1"/>
<path d="M278.6,221.4 L283,216" fill="none" stroke="#000" stroke-width="0.7" stroke-linejoin="round" stroke-linecap="round"/>
<path d="M280.2,222.3 L284.6,216.9" fill="none" stroke="#000" stroke-width="0.7" stroke-linejoin="round" stroke-linecap="round"/>
<path d="M281.8,223.2 L286.2,217.8" fill="none" stroke="#000" stroke-width="0.7" stroke-linejoin="round" stroke-linecap="round"/>
<polygon points="179.7,187 179.8,186.3 179.9,185.6 180.1,184.8 180.4,184 180.8,183.1 181.2,182.3 181.8,181.5 182.4,180.7 183,179.9 183.7,179.2 184.4,178.6 185.1,178 185.8,177.5 186.5,177.1 187.2,176.8 187.8,176.6 188.4,176.5 189,176.5 189.5,176.7 189.9,176.9 190.4,177.4 190.7,177.8 190.9,178.2 191.1,178.7 191.2,179.3 191.1,180 191,180.7 190.8,181.5 190.5,182.3 190.1,183.2 189.7,184 189.1,184.8 188.5,185.6 187.9,186.4 187.2,187.1 186.5,187.7 185.8,188.3 185.1,188.8 184.4,189.2 183.7,189.5 183.1,189.7 182.5,189.8 181.9,189.8 181.4,189.6 181,189.4 180.5,188.9 180.2,188.6 179.9,188.1 179.8,187.6" fill="#fff" stroke="#000" stroke-width="1.3" stroke-linejoin="round"/>
<ellipse cx="185.2" cy="182.9" rx="7.6" ry="3.6" transform="rotate(-52 185.2 182.9)" fill="#fff" stroke="#000" stroke-width="1.3"/>
<ellipse cx="185.2" cy="182.9" rx="3.8" ry="1.8" transform="rotate(-52 185.2 182.9)" fill="#fff" stroke="#000" stroke-width="1.3"/>
<polygon points="188,194.3 188.1,193.2 188.3,192 188.6,190.8 189.1,189.6 189.6,188.4 190.2,187.3 191,186.2 191.8,185.2 192.7,184.3 193.6,183.5 194.6,182.8 195.5,182.3 196.5,181.9 197.5,181.6 198.4,181.5 199.3,181.6 200.1,181.8 200.8,182.1 203.5,184.1 204.1,184.6 204.7,185.3 205.1,186 205.4,186.9 205.6,187.9 205.7,188.9 205.6,190 205.4,191.2 205.1,192.4 204.7,193.6 204.1,194.8 203.5,195.9 202.7,197 201.9,198 201,198.9 200.1,199.7 199.2,200.4 198.2,200.9 197.2,201.3 196.2,201.6 195.3,201.7 194.4,201.6 193.6,201.4 192.9,201.1 190.2,199.1 189.6,198.6 189,197.9 188.6,197.2 188.3,196.3 188.1,195.3" fill="#fff" stroke="#000" stroke-width="1.3" stroke-linejoin="round"/>
<ellipse cx="198.2" cy="192.6" rx="10" ry="6.2" transform="rotate(-58 198.2 192.6)" fill="#fff" stroke="#000" stroke-width="1.3"/>
<ellipse cx="198.8" cy="192.8" rx="7.5" ry="4.7" transform="rotate(-58 198.8 192.8)" fill="none" stroke="#000" stroke-width="1"/>
<ellipse cx="198.8" cy="192.8" rx="5" ry="3.1" transform="rotate(-58 198.8 192.8)" fill="none" stroke="#000" stroke-width="1"/>
<ellipse cx="198.8" cy="192.8" rx="2.8" ry="1.7" transform="rotate(-58 198.8 192.8)" fill="none" stroke="#000" stroke-width="1"/>
<ellipse cx="222.8" cy="186.2" rx="7.8" ry="6.4" transform="rotate(50 222.8 186.2)" fill="#fff" stroke="#000" stroke-width="1.3"/>
<path d="M227.5,191.1 L226.9,191.3 L226.1,191.4 L225.4,191.3 L224.6,191.2 L223.8,190.9 L223.1,190.6 L222.3,190.1 L221.6,189.6 L220.9,189 L220.3,188.3 L219.7,187.6 L219.2,186.8 L218.8,186 L218.5,185.2 L218.3,184.3 L218.2,183.5 L218.2,182.8 L218.3,182 L218.5,181.3 L218.8,180.7" fill="none" stroke="#000" stroke-width="1" stroke-linejoin="round" stroke-linecap="round"/>
<path d="M228.6,189.2 L228.1,189.3 L227.5,189.3 L226.9,189.2 L226.3,189 L225.7,188.8 L225.1,188.4 L224.4,188 L223.8,187.5 L223.2,186.9 L222.7,186.3 L222.2,185.7 L221.7,185 L221.3,184.3 L221,183.6 L220.8,182.9 L220.6,182.2 L220.5,181.6 L220.6,181 L220.7,180.4 L220.8,180" fill="none" stroke="#000" stroke-width="1" stroke-linejoin="round" stroke-linecap="round"/>
<path d="M229.7,187.3 L229.3,187.3 L228.9,187.3 L228.5,187.1 L228,186.9 L227.5,186.6 L227,186.2 L226.5,185.8 L226,185.4 L225.5,184.9 L225,184.3 L224.6,183.8 L224.2,183.2 L223.8,182.6 L223.5,182 L223.2,181.5 L223,180.9 L222.9,180.4 L222.8,180 L222.8,179.6 L222.9,179.2" fill="none" stroke="#000" stroke-width="1" stroke-linejoin="round" stroke-linecap="round"/>
<ellipse cx="220.9" cy="187.8" rx="1.6" ry="1.2" transform="rotate(50 220.9 187.8)" fill="none" stroke="#000" stroke-width="0.8"/>
<polygon points="226.4,177.4 226.5,177 226.6,176.6 226.8,176.3 227.1,176 227.5,175.6 227.8,175.4 228.1,175.3 228.5,175.2 229,175.2 229.4,175.3 229.9,175.5 230.5,175.8 231,176.1 231.5,176.4 232,176.8 232.5,177.3 232.9,177.8 233.4,178.3 233.7,178.9 234.1,179.5 234.3,180 234.5,180.6 234.7,181.1 234.8,181.7 234.8,182.2 234.7,182.6 234.6,183 234.4,183.3 234.1,183.6 233.7,184 233.4,184.2 233.1,184.3 232.7,184.4 232.2,184.3 231.8,184.3 231.2,184.1 230.7,183.8 230.2,183.6 229.7,183.2 229.2,182.8 228.7,182.3 228.3,181.8 227.8,181.3 227.5,180.7 227.1,180.1 226.9,179.6 226.7,179 226.5,178.5 226.4,177.9" fill="#fff" stroke="#000" stroke-width="1.3" stroke-linejoin="round"/>
<ellipse cx="230.4" cy="180" rx="5.2" ry="2.8" transform="rotate(50 230.4 180)" fill="#fff" stroke="#000" stroke-width="1.3"/>
<ellipse cx="230.4" cy="180" rx="2.6" ry="1.4" transform="rotate(50 230.4 180)" fill="#fff" stroke="#000" stroke-width="1.3"/>
<path d="M193.6,209.6 C197.1,205.8 211.2,192.3 215.1,188.9 C219,185.5 216.4,188.7 216.9,189.2 C217.4,189.7 221.3,187.9 217.9,191.8 C214.5,195.7 200.4,209.1 196.4,212.5 C192.4,215.9 194.5,212.5 194,212 C193.5,211.5 190.1,213.4 193.6,209.6 Z" fill="#fff" stroke="#000" stroke-width="1.3" stroke-linejoin="round" stroke-linecap="round"/>
<polygon points="206.9,211.4 206.9,210.2 207.1,209.1 207.4,207.9 207.8,206.7 208.3,205.5 209,204.4 209.7,203.3 210.6,202.3 211.4,201.4 212.4,200.6 213.3,199.9 214.3,199.4 215.3,199 216.3,198.7 217.3,198.7 218.2,198.7 219,198.9 219.8,199.3 220.5,199.8 223,201.8 223.6,202.5 224,203.3 224.3,204.2 224.6,205.2 224.6,206.2 224.6,207.4 224.4,208.5 224.1,209.7 223.7,210.9 223.2,212.1 222.5,213.2 221.8,214.3 220.9,215.3 220.1,216.2 219.1,217 218.2,217.7 217.2,218.2 216.2,218.6 215.2,218.9 214.2,218.9 213.3,218.9 212.5,218.7 211.7,218.3 211,217.8 208.5,215.8 207.9,215.1 207.5,214.3 207.2,213.4 206.9,212.4" fill="#fff" stroke="#000" stroke-width="1.3" stroke-linejoin="round"/>
<ellipse cx="217" cy="209.8" rx="10" ry="6.5" transform="rotate(-58 217 209.8)" fill="#fff" stroke="#000" stroke-width="1.3"/>
<ellipse cx="217.6" cy="210" rx="7.5" ry="4.9" transform="rotate(-58 217.6 210)" fill="none" stroke="#000" stroke-width="1"/>
<ellipse cx="217.6" cy="210" rx="5" ry="3.2" transform="rotate(-58 217.6 210)" fill="none" stroke="#000" stroke-width="1"/>
<ellipse cx="217.6" cy="210" rx="2.8" ry="1.8" transform="rotate(-58 217.6 210)" fill="none" stroke="#000" stroke-width="1"/>
<polygon points="221.4,222.5 221.4,221.8 221.5,221 221.7,220.2 222,219.4 222.4,218.6 222.8,217.7 223.3,216.9 223.9,216.1 224.6,215.3 225.2,214.6 225.9,214 226.7,213.4 227.4,212.9 228.1,212.6 228.8,212.3 229.5,212.1 230.2,212.1 230.7,212.1 231.2,212.2 231.7,212.5 232.2,213 232.5,213.4 232.8,213.8 233,214.4 233.1,215 233.1,215.7 233,216.5 232.8,217.3 232.5,218.1 232.1,218.9 231.7,219.8 231.2,220.6 230.6,221.4 229.9,222.2 229.3,222.9 228.6,223.5 227.8,224.1 227.1,224.6 226.4,224.9 225.7,225.2 225,225.4 224.3,225.4 223.8,225.4 223.3,225.2 222.8,225 222.3,224.5 222,224.1 221.7,223.7 221.5,223.1" fill="#fff" stroke="#000" stroke-width="1.3" stroke-linejoin="round"/>
<ellipse cx="227" cy="218.5" rx="7.6" ry="3.9" transform="rotate(-52 227 218.5)" fill="#fff" stroke="#000" stroke-width="1.3"/>
<ellipse cx="227" cy="218.5" rx="3.8" ry="1.9" transform="rotate(-52 227 218.5)" fill="#fff" stroke="#000" stroke-width="1.3"/>
<ellipse cx="187.8" cy="217.3" rx="7.2" ry="6.3" transform="rotate(50 187.8 217.3)" fill="#fff" stroke="#000" stroke-width="1.3"/>
<path d="M192.2,221.8 L191.6,222 L190.9,222.1 L190.2,222.1 L189.4,222 L188.7,221.7 L187.9,221.4 L187.2,221 L186.6,220.6 L185.9,220 L185.3,219.4 L184.8,218.7 L184.4,218 L184,217.2 L183.8,216.4 L183.6,215.7 L183.5,214.9 L183.5,214.2 L183.6,213.4 L183.8,212.8 L184.1,212.2" fill="none" stroke="#000" stroke-width="1" stroke-linejoin="round" stroke-linecap="round"/>
<path d="M193.3,220 L192.8,220.1 L192.3,220.1 L191.7,220 L191.1,219.8 L190.5,219.6 L189.9,219.3 L189.3,218.9 L188.8,218.5 L188.2,217.9 L187.7,217.4 L187.2,216.8 L186.8,216.2 L186.5,215.5 L186.2,214.9 L186,214.2 L185.9,213.6 L185.8,213 L185.9,212.4 L186,211.9 L186.1,211.4" fill="none" stroke="#000" stroke-width="1" stroke-linejoin="round" stroke-linecap="round"/>
<path d="M194.4,218.1 L194.1,218.1 L193.7,218.1 L193.3,217.9 L192.9,217.7 L192.4,217.5 L191.9,217.2 L191.4,216.8 L191,216.4 L190.5,215.9 L190.1,215.4 L189.7,214.9 L189.3,214.3 L188.9,213.8 L188.7,213.3 L188.4,212.7 L188.2,212.2 L188.1,211.8 L188.1,211.3 L188.1,211 L188.2,210.6" fill="none" stroke="#000" stroke-width="1" stroke-linejoin="round" stroke-linecap="round"/>
<ellipse cx="185.9" cy="218.9" rx="1.6" ry="1.2" transform="rotate(50 185.9 218.9)" fill="none" stroke="#000" stroke-width="0.8"/>
<polygon points="175.6,223.1 175.7,222.7 175.8,222.3 176,221.9 176.3,221.7 176.7,221.3 177,221.1 177.3,220.9 177.8,220.9 178.2,220.9 178.7,221 179.1,221.1 179.7,221.3 180.2,221.6 180.7,222 181.1,222.4 181.6,222.8 182,223.3 182.4,223.8 182.8,224.3 183.1,224.9 183.4,225.5 183.6,226 183.7,226.5 183.8,227 183.8,227.5 183.7,227.9 183.6,228.3 183.4,228.7 183.1,228.9 182.7,229.3 182.4,229.5 182.1,229.7 181.7,229.7 181.2,229.7 180.7,229.6 180.3,229.5 179.8,229.3 179.2,229 178.8,228.6 178.3,228.2 177.8,227.8 177.4,227.3 176.9,226.8 176.6,226.2 176.3,225.7 176,225.1 175.8,224.6 175.7,224.1 175.6,223.6" fill="#fff" stroke="#000" stroke-width="1.3" stroke-linejoin="round"/>
<ellipse cx="179.5" cy="225.5" rx="5" ry="2.8" transform="rotate(50 179.5 225.5)" fill="#fff" stroke="#000" stroke-width="1.3"/>
<ellipse cx="179.5" cy="225.5" rx="2.5" ry="1.4" transform="rotate(50 179.5 225.5)" fill="#fff" stroke="#000" stroke-width="1.3"/>
<path d="M163.9,202.3 L172.9,194.1 L177.7,197.1 L177.7,199.7 L170.3,206.4 L169.9,208.2 L173.2,206.7 L177.7,209.7 L177.7,213.1 L168.4,220.5 L164.3,218.3 L163.2,209.4 Z" fill="#fff" stroke="#000" stroke-width="1.3" stroke-linejoin="round" stroke-linecap="round"/>
<path d="M163.9,202.3 L167.7,204.1 L177.7,197.1" fill="none" stroke="#000" stroke-width="1" stroke-linejoin="round" stroke-linecap="round"/>
<path d="M167.7,204.1 L168.4,220.5" fill="none" stroke="#000" stroke-width="1" stroke-linejoin="round" stroke-linecap="round"/>
<path d="M167.7,204.1 L170.3,206.4" fill="none" stroke="#000" stroke-width="0.8" stroke-linejoin="round" stroke-linecap="round"/>
<path d="M169.9,208.2 L169.9,214.6 L177.7,209.7" fill="none" stroke="#000" stroke-width="0.8" stroke-linejoin="round" stroke-linecap="round"/>
<path d="M165.1,209 L165.4,216.8" fill="none" stroke="#000" stroke-width="0.8" stroke-linejoin="round" stroke-linecap="round"/>
<path d="M196.7,229.2 L205.7,221.9 L210.5,224.5 L210.5,226.9 L203.1,232.8 L202.7,234.5 L206,233.2 L210.5,235.8 L210.5,238.8 L201.2,245.4 L197.1,243.4 L196,235.5 Z" fill="#fff" stroke="#000" stroke-width="1.3" stroke-linejoin="round" stroke-linecap="round"/>
<path d="M196.7,229.2 L200.5,230.8 L210.5,224.5" fill="none" stroke="#000" stroke-width="1" stroke-linejoin="round" stroke-linecap="round"/>
<path d="M200.5,230.8 L201.2,245.4" fill="none" stroke="#000" stroke-width="1" stroke-linejoin="round" stroke-linecap="round"/>
<path d="M200.5,230.8 L203.1,232.8" fill="none" stroke="#000" stroke-width="0.8" stroke-linejoin="round" stroke-linecap="round"/>
<path d="M202.7,234.5 L202.7,240.1 L210.5,235.8" fill="none" stroke="#000" stroke-width="0.8" stroke-linejoin="round" stroke-linecap="round"/>
<path d="M197.9,235.1 L198.2,242.1" fill="none" stroke="#000" stroke-width="0.8" stroke-linejoin="round" stroke-linecap="round"/>
<path d="M141.3,222.9 L144,220.8 L147.8,220.5 L158.2,223.5 L168.6,229.4 L179,238.3 L186.4,247.8 L188.5,256.1 L188.2,265 L184.9,269.5 L183.5,275 L181.5,281 L178,285.5 L171.6,287.8 L164.2,287 L159.7,282 L158.8,275 L161,269 L164.2,266.5 L161.2,263.6 L152.3,256.1 L146.3,248.7 L140.4,238.3 L138.9,233.5 L141.5,229.5 Z" fill="#fff" stroke="#000" stroke-width="1.4" stroke-linejoin="round" stroke-linecap="round"/>
<path d="M143.5,224.5 L147.5,222.8 L157.5,225.8 L167.5,231.5 L177.5,240 L184.5,249 L186.2,256.5 L186,265" fill="none" stroke="#000" stroke-width="1" stroke-linejoin="round" stroke-linecap="round"/>
<path d="M144.9,230.9 C147.1,231.7 154.5,233.5 158.2,235.9 C161.9,238.4 164.9,241.9 167.1,245.7 C169.4,249.6 170.4,255.4 171.6,259.1 C172.7,262.8 173.6,266.5 174,268" fill="none" stroke="#000" stroke-width="1" stroke-linejoin="round" stroke-linecap="round"/>
<path d="M152.3,238.3 C153.8,239.3 159,241.3 161.2,244.3 C163.4,247.2 164.7,252.4 165.6,256.1 C166.6,259.8 166.9,264.8 167.1,266.5" fill="none" stroke="#000" stroke-width="1" stroke-linejoin="round" stroke-linecap="round"/>
<path d="M162.7,227.9 C164.4,229.4 170.3,233.1 173.1,236.8 C175.8,240.5 177.7,245.5 179,250.2 C180.3,254.9 180.7,262.6 181.1,265" fill="none" stroke="#000" stroke-width="1" stroke-linejoin="round" stroke-linecap="round"/>
<path d="M167.1,229.4 C168.9,231.1 174.9,235.8 177.5,239.8 C180.1,243.8 181.9,248.7 182.9,253.2 C183.9,257.6 183.4,264.3 183.5,266.5" fill="none" stroke="#000" stroke-width="0.8" stroke-linejoin="round" stroke-linecap="round"/>
<path d="M151,247 L155.5,248.5 L156,254 L151.5,252.5 Z" fill="none" stroke="#000" stroke-width="1" stroke-linejoin="round" stroke-linecap="round"/>
<path d="M157,225 L161,227 L162,231 L158,229.5 Z" fill="none" stroke="#000" stroke-width="0.8" stroke-linejoin="round" stroke-linecap="round"/>
<path d="M181,244 L187.5,247 M180.5,264 L187.5,262.5 M141,229.5 L146,232 L147,238" fill="none" stroke="#000" stroke-width="1" stroke-linejoin="round" stroke-linecap="round"/>
<path d="M164.2,266.5 C165.5,266.8 169.4,267.9 172,268.5 C174.6,269.1 177.8,269.8 180,270 C182.2,270.2 184.2,269.6 185,269.5" fill="none" stroke="#000" stroke-width="1" stroke-linejoin="round" stroke-linecap="round"/>
<ellipse cx="172.8" cy="280" rx="6.8" ry="4.3" transform="rotate(-60 172.8 280)" fill="#fff" stroke="#000" stroke-width="1.3"/>
<polygon points="174.2,290.1 174.3,289.2 174.4,288.3 174.7,287.4 175.2,286.5 175.7,285.6 176.2,284.8 176.9,284.1 177.7,283.4 178.5,282.9 179.3,282.4 180.2,282.1 181.1,281.9 182,281.8 182.9,281.8 183.7,281.9 184.5,282.1 185.2,282.5 185.9,283 194.1,290 194.7,290.6 195.2,291.2 195.5,291.9 195.8,292.8 196,293.6 196,294.5 195.9,295.4 195.8,296.3 195.5,297.2 195.1,298.1 194.6,299 193.9,299.8 193.3,300.5 192.5,301.2 191.7,301.7 190.9,302.2 190,302.5 189.1,302.7 188.2,302.8 187.3,302.8 186.5,302.7 185.7,302.5 185,302.1 184.3,301.6 176.1,294.6 175.5,294.1 175.1,293.4 174.7,292.6 174.4,291.9 174.2,291" fill="#fff" stroke="#000" stroke-width="1.3" stroke-linejoin="round"/>
<ellipse cx="189.2" cy="295.8" rx="7.6" ry="6.2" transform="rotate(-50 189.2 295.8)" fill="#fff" stroke="#000" stroke-width="1.3"/>
<ellipse cx="189.8" cy="296.3" rx="3.5" ry="2.8" transform="rotate(-50 189.8 296.3)" fill="none" stroke="#000" stroke-width="1"/>
<ellipse cx="189.8" cy="296.3" rx="2" ry="1.6" transform="rotate(-50 189.8 296.3)" fill="none" stroke="#000" stroke-width="1"/>
<polygon points="458.6,187 458.6,186.4 458.7,185.8 458.9,185.2 459.1,184.6 459.4,184 459.7,183.5 460.1,182.9 460.6,182.4 461,181.9 461.6,181.5 462.1,181.1 462.6,180.8 463.2,180.6 463.7,180.5 464.2,180.4 464.7,180.4 465.2,180.5 465.6,180.7 466,180.9 486.2,195.4 486.5,195.7 486.8,196.1 487,196.5 487.1,197 487.2,197.5 487.2,198.1 487.1,198.7 486.9,199.3 486.7,199.9 486.4,200.5 486.1,201 485.7,201.6 485.2,202.1 484.8,202.6 484.2,203 483.7,203.4 483.2,203.7 482.6,203.9 482.1,204 481.6,204.1 481.1,204.1 480.6,204 480.2,203.8 479.8,203.6 459.6,189.1 459.3,188.8 459,188.4 458.8,188 458.7,187.5" fill="#fff" stroke="#000" stroke-width="1.3" stroke-linejoin="round"/>
<ellipse cx="483" cy="199.5" rx="5.2" ry="3.4" transform="rotate(-52 483 199.5)" fill="#fff" stroke="#000" stroke-width="1.3"/>
<path d="M468.5,185.5 L464.5,192 M472.5,188.3 L468.5,194.8" fill="none" stroke="#000" stroke-width="1" stroke-linejoin="round" stroke-linecap="round"/>
<polygon points="447.7,182.5 447.7,181.5 447.9,180.5 448.1,179.5 448.4,178.5 448.9,177.4 449.4,176.4 450.1,175.4 450.8,174.5 451.6,173.6 452.4,172.8 453.2,172.1 454.1,171.6 455,171.1 455.9,170.8 456.8,170.6 457.6,170.5 458.3,170.6 459,170.8 459.7,171.1 460.2,171.6 461.5,172.9 461.9,173.5 462.3,174.2 462.5,175 462.6,175.8 462.6,176.8 462.4,177.8 462.2,178.8 461.9,179.8 461.4,180.9 460.9,181.9 460.2,182.9 459.5,183.8 458.7,184.7 457.9,185.5 457.1,186.2 456.2,186.8 455.3,187.2 454.4,187.5 453.5,187.7 452.7,187.8 452,187.7 451.3,187.5 450.6,187.2 450.1,186.7 448.8,185.4 448.4,184.8 448,184.1 447.8,183.3" fill="#fff" stroke="#000" stroke-width="1.3" stroke-linejoin="round"/>
<ellipse cx="454.5" cy="178.5" rx="9" ry="5.4" transform="rotate(-55 454.5 178.5)" fill="#fff" stroke="#000" stroke-width="1.3"/>
<ellipse cx="454.5" cy="178.5" rx="6.5" ry="3.9" transform="rotate(-55 454.5 178.5)" fill="none" stroke="#000" stroke-width="1"/>
<ellipse cx="454.5" cy="178.5" rx="4.5" ry="2.7" transform="rotate(-55 454.5 178.5)" fill="#fff" stroke="#000" stroke-width="1.3"/>
<polygon points="473,210.9 473,209.4 473.3,207.7 473.8,205.9 474.5,204.1 475.4,202.3 476.5,200.4 477.7,198.6 479.1,196.8 480.5,195.2 482.1,193.7 483.8,192.3 485.4,191.1 487.1,190.1 488.8,189.3 490.4,188.7 491.9,188.4 493.3,188.3 494.6,188.5 495.8,188.8 496.7,189.5 498.4,191.2 499.2,192 499.8,193.1 500.2,194.3 500.3,195.8 500.3,197.3 500,199 499.5,200.8 498.8,202.6 497.9,204.4 496.8,206.3 495.6,208.1 494.2,209.9 492.8,211.5 491.2,213 489.6,214.4 487.9,215.6 486.2,216.6 484.5,217.4 482.9,218 481.4,218.3 480,218.4 478.7,218.2 477.6,217.8 476.6,217.2 474.9,215.5 474.1,214.7 473.5,213.6 473.1,212.4" fill="#fff" stroke="#000" stroke-width="1.3" stroke-linejoin="round"/>
<ellipse cx="487.5" cy="204.2" rx="17" ry="8.8" transform="rotate(-50 487.5 204.2)" fill="#fff" stroke="#000" stroke-width="1.3"/>
<ellipse cx="487.5" cy="204.2" rx="13.5" ry="6.8" transform="rotate(-50 487.5 204.2)" fill="none" stroke="#000" stroke-width="0.8"/>
<ellipse cx="487" cy="204.8" rx="4" ry="2.4" transform="rotate(-50 487 204.8)" fill="#fff" stroke="#000" stroke-width="1.3"/>
<ellipse cx="495.5" cy="197.2" rx="0.8" ry="0.8" transform="rotate(0 495.5 197.2)" fill="#000" stroke="#000" stroke-width="0"/>
<ellipse cx="491.8" cy="207.6" rx="0.8" ry="0.8" transform="rotate(0 491.8 207.6)" fill="#000" stroke="#000" stroke-width="0"/>
<ellipse cx="482.2" cy="213.3" rx="0.8" ry="0.8" transform="rotate(0 482.2 213.3)" fill="#000" stroke="#000" stroke-width="0"/>
<ellipse cx="479.9" cy="206.4" rx="0.8" ry="0.8" transform="rotate(0 479.9 206.4)" fill="#000" stroke="#000" stroke-width="0"/>
<ellipse cx="488.1" cy="196.5" rx="0.8" ry="0.8" transform="rotate(0 488.1 196.5)" fill="#000" stroke="#000" stroke-width="0"/>
<polygon points="400.7,191.5 400.7,190.4 400.9,189.4 401.1,188.3 401.6,187.3 402.1,186.2 402.7,185.3 403.4,184.4 404.2,183.5 405,182.8 405.9,182.2 406.9,181.7 407.8,181.3 408.8,181 409.7,180.9 410.6,180.9 411.5,181.1 412.3,181.4 413.1,181.8 413.7,182.3 416.7,185.3 417.2,186 417.7,186.8 418,187.6 418.2,188.6 418.3,189.5 418.3,190.6 418.1,191.6 417.9,192.7 417.4,193.7 416.9,194.8 416.3,195.7 415.6,196.6 414.8,197.5 414,198.2 413.1,198.8 412.1,199.3 411.2,199.7 410.2,200 409.3,200.1 408.4,200.1 407.5,199.9 406.7,199.6 405.9,199.2 405.3,198.7 402.3,195.7 401.8,195 401.3,194.2 401,193.4 400.8,192.4" fill="#fff" stroke="#000" stroke-width="1.3" stroke-linejoin="round"/>
<ellipse cx="411" cy="192" rx="8.8" ry="6.5" transform="rotate(-55 411 192)" fill="#fff" stroke="#000" stroke-width="1.3"/>
<ellipse cx="411" cy="192" rx="5" ry="3.6" transform="rotate(-55 411 192)" fill="#fff" stroke="#000" stroke-width="1.3"/>
<path d="M414.6,186.9 L415.8,185.2" fill="none" stroke="#000" stroke-width="0.7" stroke-linejoin="round" stroke-linecap="round"/>
<path d="M416,189.4 L417.8,188.6" fill="none" stroke="#000" stroke-width="0.7" stroke-linejoin="round" stroke-linecap="round"/>
<path d="M415.6,192.9 L417.2,193.2" fill="none" stroke="#000" stroke-width="0.7" stroke-linejoin="round" stroke-linecap="round"/>
<path d="M413.4,196 L414.3,197.4" fill="none" stroke="#000" stroke-width="0.7" stroke-linejoin="round" stroke-linecap="round"/>
<path d="M410.3,197.6 L410.1,199.6" fill="none" stroke="#000" stroke-width="0.7" stroke-linejoin="round" stroke-linecap="round"/>
<path d="M407.4,197.1 L406.2,198.8" fill="none" stroke="#000" stroke-width="0.7" stroke-linejoin="round" stroke-linecap="round"/>
<path d="M406,194.6 L404.2,195.4" fill="none" stroke="#000" stroke-width="0.7" stroke-linejoin="round" stroke-linecap="round"/>
<path d="M406.4,191.1 L404.8,190.8" fill="none" stroke="#000" stroke-width="0.7" stroke-linejoin="round" stroke-linecap="round"/>
<path d="M408.6,188 L407.7,186.6" fill="none" stroke="#000" stroke-width="0.7" stroke-linejoin="round" stroke-linecap="round"/>
<path d="M411.7,186.4 L411.9,184.4" fill="none" stroke="#000" stroke-width="0.7" stroke-linejoin="round" stroke-linecap="round"/>
<polygon points="415.3,203.7 415.4,202.6 415.6,201.5 416,200.4 416.4,199.3 417,198.2 417.7,197.2 418.4,196.2 419.3,195.3 420.1,194.4 421.1,193.7 422,193.1 423,192.7 423.9,192.3 424.9,192.1 425.8,192.1 426.6,192.2 427.4,192.4 428.1,192.8 428.6,193.3 430.1,194.8 430.6,195.5 431,196.2 431.3,197.1 431.4,198 431.4,199 431.3,200.1 431.1,201.2 430.7,202.3 430.3,203.4 429.7,204.5 429,205.5 428.3,206.5 427.4,207.4 426.6,208.3 425.6,209 424.7,209.6 423.7,210 422.8,210.4 421.8,210.6 420.9,210.6 420.1,210.5 419.3,210.3 418.6,209.9 418.1,209.4 416.6,207.9 416.1,207.2 415.7,206.5 415.4,205.6 415.3,204.7" fill="#fff" stroke="#000" stroke-width="1.3" stroke-linejoin="round"/>
<ellipse cx="422.6" cy="200.6" rx="9.5" ry="6" transform="rotate(-55 422.6 200.6)" fill="#fff" stroke="#000" stroke-width="1.3"/>
<ellipse cx="422.6" cy="200.6" rx="5.7" ry="3.6" transform="rotate(-55 422.6 200.6)" fill="#fff" stroke="#000" stroke-width="1.3"/>
<polygon points="428.4,209.7 428.4,209.2 428.5,208.6 428.7,208 428.9,207.4 429.2,206.8 429.6,206.2 429.9,205.7 430.4,205.2 430.9,204.8 431.4,204.5 431.9,204.2 432.4,203.9 433,203.8 433.5,203.7 434,203.7 434.5,203.8 435,204 435.4,204.2 435.7,204.5 436.7,205.5 437,205.9 437.3,206.3 437.5,206.8 437.6,207.3 437.6,207.9 437.6,208.4 437.5,209 437.3,209.6 437.1,210.2 436.8,210.8 436.4,211.4 436.1,211.9 435.6,212.3 435.1,212.8 434.6,213.1 434.1,213.4 433.6,213.7 433,213.8 432.5,213.9 432,213.9 431.5,213.8 431,213.6 430.6,213.4 430.3,213.1 429.3,212.1 429,211.7 428.7,211.3 428.5,210.8 428.4,210.3" fill="#fff" stroke="#000" stroke-width="1.3" stroke-linejoin="round"/>
<ellipse cx="432.5" cy="208.3" rx="5" ry="3.6" transform="rotate(-55 432.5 208.3)" fill="#fff" stroke="#000" stroke-width="1.3"/>
<ellipse cx="432.5" cy="208.3" rx="2.5" ry="1.8" transform="rotate(-55 432.5 208.3)" fill="#fff" stroke="#000" stroke-width="1.3"/>
<polygon points="434.5,220.1 434.6,219 434.8,217.8 435.2,216.6 435.7,215.4 436.4,214.2 437.1,213.1 437.9,212 438.8,211 439.7,210.1 440.7,209.3 441.8,208.7 442.8,208.2 443.9,207.8 444.9,207.6 445.8,207.6 446.7,207.7 447.6,207.9 448.3,208.4 448.9,208.9 450.4,210.4 451,211.1 451.4,211.9 451.7,212.9 451.8,213.9 451.8,215 451.7,216.1 451.5,217.3 451.1,218.5 450.6,219.7 449.9,220.9 449.2,222 448.4,223.1 447.5,224.1 446.6,225 445.6,225.8 444.5,226.4 443.5,226.9 442.4,227.3 441.4,227.5 440.5,227.5 439.6,227.4 438.7,227.2 438,226.7 437.4,226.2 435.9,224.7 435.3,224 434.9,223.2 434.6,222.2 434.5,221.2" fill="#fff" stroke="#000" stroke-width="1.3" stroke-linejoin="round"/>
<ellipse cx="442.4" cy="216.8" rx="10.3" ry="6.5" transform="rotate(-55 442.4 216.8)" fill="#fff" stroke="#000" stroke-width="1.3"/>
<ellipse cx="442.4" cy="216.8" rx="7.4" ry="4.7" transform="rotate(-55 442.4 216.8)" fill="none" stroke="#000" stroke-width="1"/>
<ellipse cx="442.4" cy="216.8" rx="5.2" ry="3.2" transform="rotate(-55 442.4 216.8)" fill="#fff" stroke="#000" stroke-width="1.3"/>
<polygon points="446.6,230 446.8,229 447,227.8 447.4,226.7 447.9,225.6 448.5,224.4 449.2,223.4 450,222.3 450.8,221.4 451.7,220.6 452.6,219.8 453.6,219.2 454.6,218.7 455.6,218.3 456.5,218.1 457.4,218.1 458.3,218.2 459,218.4 459.7,218.8 460.3,219.3 461.8,220.8 462.3,221.4 462.7,222.2 462.9,223.1 463.1,224 463.1,225.1 462.9,226.1 462.7,227.3 462.3,228.4 461.8,229.6 461.2,230.7 460.5,231.7 459.7,232.8 458.9,233.7 458,234.6 457.1,235.3 456.1,235.9 455.1,236.4 454.1,236.8 453.2,237 452.3,237 451.4,236.9 450.7,236.7 450,236.3 449.4,235.8 447.9,234.3 447.4,233.7 447,232.9 446.8,232 446.6,231.1" fill="#fff" stroke="#000" stroke-width="1.3" stroke-linejoin="round"/>
<ellipse cx="454.1" cy="226.8" rx="9.8" ry="6" transform="rotate(-55 454.1 226.8)" fill="#fff" stroke="#000" stroke-width="1.3"/>
<ellipse cx="454.1" cy="226.8" rx="7.4" ry="4.5" transform="rotate(-55 454.1 226.8)" fill="none" stroke="#000" stroke-width="1"/>
<ellipse cx="454.1" cy="226.8" rx="5.4" ry="3.3" transform="rotate(-55 454.1 226.8)" fill="#fff" stroke="#000" stroke-width="1.3"/>
<polygon points="405,352.5 439,371.5 436.2,377.3 402.2,358.3" fill="#fff" stroke="#000" stroke-width="1.3" stroke-linejoin="round"/>
<path d="M377.8,327.3 L378.7,327.6 L379.7,327.8 L380.6,328.1 L381.6,328.3 L382.5,328.6 L383.4,328.9 L384.4,329.2 L385.3,329.5 L386.2,329.8 L387.1,330.2 L388,330.6 L388.8,331 L389.7,331.4 L390.6,331.8 L391.4,332.3 L392.2,332.7 L393.1,333.2 L393.9,333.7 L394.7,334.3 L395.5,334.8 L396.3,335.4 L397.1,336 L397.9,336.6 L398.6,337.3 L399.3,338 L400.1,338.8 L400.8,339.5 L401.5,340.3 L402.2,341.1 L402.9,341.9 L403.5,342.8 L404.2,343.7 L404.8,344.6 L405.4,345.6 L406,346.6 L406.6,347.7 L407.1,348.9 L407.5,350.2 L408,351.5 L408.5,352.8 L408.7,353 L408.8,353.3 L408.9,353.7 L408.9,354.2 L408.9,354.7 L408.7,355.3 L408.5,355.9 L408.3,356.6 L408,357.2 L407.6,357.8 L407.3,358.3 L406.9,358.7 L406.5,359 L406.1,359.2 L405.8,359.2 L405.5,359.2 L404.3,359.7 L403,360.2 L401.7,360.7 L400.4,361.1 L399.2,361.4 L398.1,361.6 L396.9,361.8 L395.8,361.9 L394.7,362 L393.6,362.1 L392.6,362.1 L391.5,362.1 L390.5,362.1 L389.4,362 L388.4,362 L387.4,361.9 L386.4,361.8 L385.4,361.6 L384.4,361.4 L383.5,361.2 L382.5,360.9 L381.6,360.7 L380.7,360.4 L379.8,360.1 L378.8,359.7 L377.9,359.4 L377.1,359 L376.2,358.6 L375.3,358.2 L374.4,357.8 L373.6,357.4 L372.7,356.9 L371.9,356.4 L371.1,355.9 L370.3,355.4 L369.4,354.9 L368.6,354.3 L367.8,353.8 L367,353.2 L366.2,352.7 L365.3,352 L364.7,350.9 L364.3,349.3 L364.3,347.4 L364.5,345.1 L365.1,342.7 L365.9,340.2 L366.9,337.7 L368.1,335.2 L369.5,333 L371,331 L372.5,329.4 L374,328.1 L375.4,327.3 L376.7,327.1 Z" fill="#fff" stroke="#000" stroke-width="1.3" stroke-linejoin="round" stroke-linecap="round"/>
<path d="M383.6,329.4 L382.7,329.2 L381.7,329.3 L380.6,329.7 L379.4,330.5 L378.1,331.6 L376.9,332.9 L375.6,334.4 L374.5,336.2 L373.3,338.1 L372.3,340.2 L371.5,342.2 L370.7,344.3 L370.2,346.4 L369.8,348.3 L369.6,350.2 L369.6,351.8 L369.9,353.2 L370.3,354.3 L370.8,355.2 L371.6,355.7" fill="none" stroke="#000" stroke-width="1" stroke-linejoin="round" stroke-linecap="round"/>
<path d="M389.7,331.9 L388.8,331.7 L387.7,331.8 L386.6,332.2 L385.4,333 L384.1,334.1 L382.8,335.4 L381.6,337 L380.3,338.8 L379.2,340.8 L378.2,342.8 L377.3,345 L376.6,347.1 L376,349.2 L375.6,351.2 L375.4,353 L375.4,354.7 L375.7,356.1 L376.1,357.3 L376.7,358.1 L377.4,358.7" fill="none" stroke="#000" stroke-width="1" stroke-linejoin="round" stroke-linecap="round"/>
<path d="M394.7,334.8 L393.8,334.6 L392.8,334.7 L391.7,335.1 L390.5,335.8 L389.3,336.9 L388.1,338.2 L386.9,339.7 L385.7,341.4 L384.6,343.3 L383.6,345.3 L382.8,347.4 L382.1,349.4 L381.5,351.4 L381.2,353.4 L381,355.1 L381,356.7 L381.2,358.1 L381.6,359.2 L382.2,360.1 L382.9,360.6" fill="none" stroke="#000" stroke-width="1" stroke-linejoin="round" stroke-linecap="round"/>
<path d="M398.7,338 L397.9,337.8 L397,337.9 L396,338.3 L394.9,338.9 L393.8,339.9 L392.7,341.1 L391.6,342.5 L390.5,344.1 L389.5,345.8 L388.6,347.6 L387.8,349.5 L387.2,351.4 L386.7,353.2 L386.4,354.9 L386.2,356.6 L386.2,358 L386.4,359.3 L386.8,360.3 L387.3,361.1 L388,361.6" fill="none" stroke="#000" stroke-width="1" stroke-linejoin="round" stroke-linecap="round"/>
<path d="M402.2,341.6 L401.5,341.4 L400.7,341.5 L399.8,341.8 L398.9,342.4 L398,343.2 L397,344.2 L396,345.4 L395.1,346.8 L394.3,348.3 L393.5,349.8 L392.8,351.4 L392.3,353 L391.8,354.6 L391.6,356.1 L391.4,357.5 L391.4,358.8 L391.6,359.9 L391.9,360.7 L392.4,361.4 L392.9,361.8" fill="none" stroke="#000" stroke-width="1" stroke-linejoin="round" stroke-linecap="round"/>
<path d="M404.8,345.1 L404.2,344.9 L403.6,345 L402.9,345.3 L402.2,345.7 L401.4,346.4 L400.6,347.2 L399.8,348.2 L399.1,349.3 L398.4,350.5 L397.8,351.8 L397.2,353.1 L396.8,354.4 L396.4,355.7 L396.2,356.9 L396.1,358 L396.1,359 L396.2,359.9 L396.5,360.6 L396.8,361.2 L397.3,361.5" fill="none" stroke="#000" stroke-width="1" stroke-linejoin="round" stroke-linecap="round"/>
<path d="M406.9,348.8 L406.5,348.7 L406,348.8 L405.5,349 L405,349.3 L404.4,349.8 L403.9,350.4 L403.3,351.1 L402.8,351.9 L402.3,352.7 L401.8,353.6 L401.5,354.6 L401.1,355.5 L400.9,356.4 L400.7,357.3 L400.6,358.1 L400.6,358.8 L400.7,359.5 L400.9,360 L401.2,360.4 L401.5,360.6" fill="none" stroke="#000" stroke-width="1" stroke-linejoin="round" stroke-linecap="round"/>
<path d="M380.7,318.3 C380.8,318.9 380.8,319.5 380.8,320 C380.9,320.5 381,320.9 381.2,321.3 C381.3,321.7 381.5,322 381.8,322.2 C382,322.5 382.4,322.6 382.7,322.9 C383,323.2 383.4,323.4 383.6,323.8 C383.8,324.2 383.9,324.8 383.9,325.5 C383.8,326.1 383.5,327 383.1,327.9 C382.7,328.7 382.1,329.6 381.6,330.5 C381.1,331.3 380.6,332.1 380.1,332.8 C379.7,333.6 379.3,334.2 379,334.9 C378.6,335.6 378.3,336.3 378.1,337 C377.8,337.8 377.6,338.5 377.3,339.3 C377,340.2 376.7,341.1 376.3,341.9 C375.9,342.8 375.4,343.7 374.8,344.4 C374.3,345.1 373.6,345.7 373,346.2 C372.4,346.7 371.8,346.9 371.2,347.2 C370.6,347.4 370.1,347.5 369.6,347.8 C369.1,348 368.6,348.3 368.1,348.6 C367.6,349 367.1,349.3 366.6,349.8 C366.1,350.3 365.5,350.9 364.9,351.4 C364.3,352 363.5,352.7 362.9,353.1 C362.3,353.6 361.7,353.9 361.2,353.9 C360.8,354 360.4,353.7 360.2,353.3 C360,353 359.9,352.3 359.9,351.7 C359.8,351.1 359.8,350.5 359.8,350 C359.7,349.5 359.6,349.1 359.4,348.7 C359.3,348.3 359.1,348 358.8,347.8 C358.6,347.5 358.2,347.4 357.9,347.1 C357.6,346.8 357.2,346.6 357,346.2 C356.8,345.8 356.7,345.2 356.7,344.5 C356.8,343.9 357.1,343 357.5,342.1 C357.9,341.3 358.5,340.4 359,339.5 C359.5,338.7 360,337.9 360.5,337.2 C360.9,336.4 361.3,335.8 361.6,335.1 C362,334.4 362.3,333.7 362.5,333 C362.8,332.2 363,331.5 363.3,330.7 C363.6,329.8 363.9,328.9 364.3,328.1 C364.7,327.2 365.2,326.3 365.8,325.6 C366.3,324.9 367,324.3 367.6,323.8 C368.2,323.3 368.8,323.1 369.4,322.8 C370,322.6 370.5,322.5 371,322.2 C371.5,322 372,321.7 372.5,321.4 C373,321 373.5,320.7 374,320.2 C374.5,319.7 375.1,319.1 375.7,318.6 C376.3,318 377.1,317.3 377.7,316.9 C378.3,316.4 378.9,316.1 379.4,316.1 C379.8,316 380.2,316.3 380.4,316.7 C380.6,317 380.7,317.7 380.7,318.3 Z" fill="#fff" stroke="#000" stroke-width="1.3" stroke-linejoin="round" stroke-linecap="round"/>
<path d="M378.1,322.4 L378.9,323.3 L379.4,324.5 L379.5,326.2 L379.2,328.2 L378.6,330.5 L377.7,332.9 L376.5,335.5 L375,338 L373.4,340.4 L371.7,342.5 L369.9,344.4 L368.1,346 L366.4,347.1 L364.9,347.7 L363.5,347.9 L362.5,347.6 L361.7,346.7 L361.2,345.5 L361.1,343.8 L361.4,341.8 L362,339.5 L362.9,337.1 L364.1,334.5 L365.6,332 L367.2,329.6 L368.9,327.5 L370.7,325.6 L372.5,324 L374.2,322.9 L375.7,322.3 L377.1,322.1 Z" fill="none" stroke="#000" stroke-width="0.8" stroke-linejoin="round" stroke-linecap="round"/>
<ellipse cx="378" cy="319.2" rx="1.1" ry="0.8" transform="rotate(-50 378 319.2)" fill="none" stroke="#000" stroke-width="0.8"/>
<ellipse cx="381.5" cy="327.2" rx="1.1" ry="0.8" transform="rotate(-50 381.5 327.2)" fill="none" stroke="#000" stroke-width="0.8"/>
<ellipse cx="373.8" cy="343" rx="1.1" ry="0.8" transform="rotate(-50 373.8 343)" fill="none" stroke="#000" stroke-width="0.8"/>
<ellipse cx="362.6" cy="350.8" rx="1.1" ry="0.8" transform="rotate(-50 362.6 350.8)" fill="none" stroke="#000" stroke-width="0.8"/>
<ellipse cx="359.1" cy="342.8" rx="1.1" ry="0.8" transform="rotate(-50 359.1 342.8)" fill="none" stroke="#000" stroke-width="0.8"/>
<ellipse cx="366.8" cy="327" rx="1.1" ry="0.8" transform="rotate(-50 366.8 327)" fill="none" stroke="#000" stroke-width="0.8"/>
<path d="M438.4,372.1 L439.8,372.2 L441.1,372.2 L442.5,372.3 L443.8,372.4 L445.1,372.5 L446.4,372.7 L447.7,372.9 L449,373.1 L450.3,373.3 L451.5,373.5 L452.8,373.7 L454.1,373.9 L455.3,374.2 L456.6,374.4 L457.8,374.7 L459,375 L460.3,375.2 L461.5,375.5 L462.7,375.8 L463.9,376.2 L465.1,376.5 L466.3,376.8 L467.5,377.2 L468.7,377.6 L469.9,378 L471,378.4 L472.2,378.8 L473.3,379.3 L474.4,379.8 L475.5,380.4 L476.5,381.1 L477.5,381.8 L478.5,382.5 L479.4,383.3 L480.3,384.3 L481.1,385.3 L481.8,386.5 L482.6,387.6 L483.3,388.8 L484.1,389.9 L484.8,390.6 L485.4,391.7 L485.6,393 L485.6,394.7 L485.4,396.5 L484.8,398.5 L484,400.5 L483,402.5 L481.9,404.4 L480.6,406.2 L479.2,407.7 L477.8,408.9 L476.4,409.8 L475.1,410.3 L473.9,410.4 L472.9,410.1 L471.6,410 L470.2,410 L468.8,410 L467.4,410 L466.1,409.8 L464.9,409.6 L463.7,409.3 L462.5,408.8 L461.4,408.4 L460.3,407.8 L459.2,407.2 L458.2,406.6 L457.2,405.9 L456.2,405.2 L455.2,404.4 L454.3,403.6 L453.3,402.8 L452.4,402 L451.5,401.2 L450.6,400.3 L449.7,399.5 L448.7,398.6 L447.8,397.7 L447,396.8 L446.1,395.9 L445.2,395 L444.3,394.1 L443.4,393.2 L442.6,392.2 L441.7,391.3 L440.9,390.3 L440,389.3 L439.2,388.3 L438.3,387.3 L437.5,386.3 L436.7,385.3 L435.9,384.2 L435.1,383.1 L434.4,382 L433.6,380.9 L433.2,380.6 L433,380.1 L432.9,379.5 L432.9,378.8 L433,378 L433.3,377.2 L433.6,376.3 L434,375.4 L434.5,374.6 L435.1,373.8 L435.7,373.2 L436.3,372.6 L436.9,372.3 L437.5,372 L438,372 Z" fill="#fff" stroke="#000" stroke-width="1.3" stroke-linejoin="round" stroke-linecap="round"/>
<path d="M442.1,372.4 L441.7,372.3 L441.2,372.3 L440.7,372.5 L440.1,372.8 L439.5,373.2 L438.9,373.7 L438.3,374.4 L437.7,375.1 L437.1,375.9 L436.6,376.8 L436.1,377.7 L435.7,378.6 L435.4,379.6 L435.2,380.4 L435.1,381.2 L435,382 L435.1,382.6 L435.2,383.2 L435.5,383.6 L435.8,383.8" fill="none" stroke="#000" stroke-width="1" stroke-linejoin="round" stroke-linecap="round"/>
<path d="M447.3,373.1 L446.8,372.9 L446.2,372.9 L445.5,373.1 L444.7,373.5 L443.9,374 L443.1,374.7 L442.3,375.6 L441.5,376.6 L440.8,377.6 L440.1,378.8 L439.5,380 L439,381.1 L438.6,382.3 L438.3,383.5 L438.1,384.5 L438.1,385.5 L438.2,386.3 L438.4,387 L438.7,387.5 L439.1,387.9" fill="none" stroke="#000" stroke-width="1" stroke-linejoin="round" stroke-linecap="round"/>
<path d="M452.9,374 L452.2,373.8 L451.5,373.8 L450.6,374.1 L449.7,374.5 L448.8,375.2 L447.8,376.1 L446.8,377.1 L445.8,378.3 L444.9,379.6 L444.1,381 L443.4,382.4 L442.7,383.9 L442.2,385.3 L441.9,386.7 L441.7,388 L441.6,389.2 L441.7,390.2 L442,391 L442.4,391.7 L442.9,392.1" fill="none" stroke="#000" stroke-width="1" stroke-linejoin="round" stroke-linecap="round"/>
<path d="M458.4,375.2 L457.6,374.9 L456.7,374.9 L455.7,375.2 L454.7,375.7 L453.6,376.5 L452.4,377.5 L451.3,378.7 L450.2,380.1 L449.1,381.6 L448.2,383.2 L447.3,384.9 L446.6,386.6 L446,388.3 L445.6,389.9 L445.4,391.4 L445.3,392.7 L445.4,393.9 L445.7,394.9 L446.2,395.6 L446.8,396.2" fill="none" stroke="#000" stroke-width="1" stroke-linejoin="round" stroke-linecap="round"/>
<path d="M463.7,376.5 L462.9,376.2 L461.9,376.3 L460.8,376.6 L459.6,377.2 L458.4,378 L457.1,379.2 L455.8,380.5 L454.6,382 L453.4,383.7 L452.3,385.5 L451.4,387.4 L450.6,389.3 L449.9,391.1 L449.5,392.9 L449.2,394.6 L449.1,396.1 L449.2,397.5 L449.6,398.6 L450.1,399.4 L450.8,400" fill="none" stroke="#000" stroke-width="1" stroke-linejoin="round" stroke-linecap="round"/>
<path d="M469,378.1 L468,377.8 L467,377.8 L465.8,378.2 L464.5,378.8 L463.1,379.7 L461.7,381 L460.4,382.4 L459,384.1 L457.7,385.9 L456.6,387.9 L455.5,389.9 L454.7,392 L454,394 L453.5,395.9 L453.2,397.7 L453.1,399.4 L453.2,400.8 L453.6,402 L454.1,402.9 L454.9,403.6" fill="none" stroke="#000" stroke-width="1" stroke-linejoin="round" stroke-linecap="round"/>
<path d="M473.9,380.1 L473,379.8 L471.9,379.8 L470.6,380.2 L469.3,380.9 L467.8,381.8 L466.4,383.1 L465,384.6 L463.6,386.4 L462.2,388.3 L461,390.3 L459.9,392.5 L459,394.6 L458.3,396.7 L457.8,398.7 L457.5,400.6 L457.4,402.4 L457.5,403.9 L457.9,405.1 L458.5,406.1 L459.3,406.7" fill="none" stroke="#000" stroke-width="1" stroke-linejoin="round" stroke-linecap="round"/>
<path d="M477.7,384.5 L476.8,384.1 L475.7,384.1 L474.6,384.4 L473.4,385 L472.1,385.8 L470.8,386.9 L469.5,388.2 L468.3,389.7 L467.1,391.4 L466.1,393.1 L465.1,395 L464.4,396.8 L463.7,398.7 L463.3,400.5 L463.1,402.1 L463.1,403.7 L463.2,405 L463.6,406.1 L464.2,407 L464.9,407.6" fill="none" stroke="#000" stroke-width="1" stroke-linejoin="round" stroke-linecap="round"/>
<path d="M479.9,389.4 L479.3,389.1 L478.5,389.1 L477.6,389.3 L476.7,389.8 L475.7,390.4 L474.8,391.2 L473.8,392.2 L472.8,393.3 L472,394.6 L471.2,395.9 L470.5,397.3 L469.9,398.8 L469.4,400.2 L469.1,401.5 L468.9,402.8 L468.9,403.9 L469,404.9 L469.3,405.8 L469.7,406.4 L470.3,406.9" fill="none" stroke="#000" stroke-width="1" stroke-linejoin="round" stroke-linecap="round"/>
<path d="M481.9,393.9 L481.4,393.7 L480.9,393.7 L480.3,393.8 L479.6,394.1 L478.9,394.6 L478.3,395.2 L477.6,395.9 L476.9,396.7 L476.3,397.5 L475.7,398.5 L475.2,399.5 L474.8,400.4 L474.5,401.4 L474.3,402.4 L474.2,403.3 L474.1,404.1 L474.2,404.8 L474.4,405.4 L474.7,405.8 L475.1,406.1" fill="none" stroke="#000" stroke-width="1" stroke-linejoin="round" stroke-linecap="round"/>
<polygon points="479.2,397.3 505.8,412.8 502.2,419.8 475.6,404.3" fill="#fff" stroke="#000" stroke-width="1.3" stroke-linejoin="round"/>
<ellipse cx="504" cy="416.3" rx="1.8" ry="3.6" transform="rotate(-60 504 416.3)" fill="#fff" stroke="#000" stroke-width="1.3"/>
<path d="M490,403.8 L486.5,410.6 M492.2,405.1 L488.7,411.9" fill="none" stroke="#000" stroke-width="1" stroke-linejoin="round" stroke-linecap="round"/>
<path d="M482.4,396.9 L482.1,396.8 L481.8,396.8 L481.4,396.9 L480.9,397.1 L480.5,397.4 L480,397.8 L479.6,398.2 L479.2,398.7 L478.8,399.3 L478.4,399.9 L478.1,400.6 L477.8,401.2 L477.6,401.9 L477.4,402.5 L477.3,403.1 L477.3,403.6 L477.4,404.1 L477.5,404.5 L477.7,404.8 L478,405" fill="none" stroke="#000" stroke-width="1.2" stroke-linejoin="round" stroke-linecap="round"/>
<polygon points="405,352.5 439,371.5 436.2,377.3 402.2,358.3" fill="#fff" stroke="#000" stroke-width="1.3" stroke-linejoin="round"/>
<path d="M377.8,327.3 L378.7,327.6 L379.7,327.8 L380.6,328.1 L381.6,328.3 L382.5,328.6 L383.4,328.9 L384.4,329.2 L385.3,329.5 L386.2,329.8 L387.1,330.2 L388,330.6 L388.8,331 L389.7,331.4 L390.6,331.8 L391.4,332.3 L392.2,332.7 L393.1,333.2 L393.9,333.7 L394.7,334.3 L395.5,334.8 L396.3,335.4 L397.1,336 L397.9,336.6 L398.6,337.3 L399.3,338 L400.1,338.8 L400.8,339.5 L401.5,340.3 L402.2,341.1 L402.9,341.9 L403.5,342.8 L404.2,343.7 L404.8,344.6 L405.4,345.6 L406,346.6 L406.6,347.7 L407.1,348.9 L407.5,350.2 L408,351.5 L408.5,352.8 L408.7,353 L408.8,353.3 L408.9,353.7 L408.9,354.2 L408.9,354.7 L408.7,355.3 L408.5,355.9 L408.3,356.6 L408,357.2 L407.6,357.8 L407.3,358.3 L406.9,358.7 L406.5,359 L406.1,359.2 L405.8,359.2 L405.5,359.2 L404.3,359.7 L403,360.2 L401.7,360.7 L400.4,361.1 L399.2,361.4 L398.1,361.6 L396.9,361.8 L395.8,361.9 L394.7,362 L393.6,362.1 L392.6,362.1 L391.5,362.1 L390.5,362.1 L389.4,362 L388.4,362 L387.4,361.9 L386.4,361.8 L385.4,361.6 L384.4,361.4 L383.5,361.2 L382.5,360.9 L381.6,360.7 L380.7,360.4 L379.8,360.1 L378.8,359.7 L377.9,359.4 L377.1,359 L376.2,358.6 L375.3,358.2 L374.4,357.8 L373.6,357.4 L372.7,356.9 L371.9,356.4 L371.1,355.9 L370.3,355.4 L369.4,354.9 L368.6,354.3 L367.8,353.8 L367,353.2 L366.2,352.7 L365.3,352 L364.7,350.9 L364.3,349.3 L364.3,347.4 L364.5,345.1 L365.1,342.7 L365.9,340.2 L366.9,337.7 L368.1,335.2 L369.5,333 L371,331 L372.5,329.4 L374,328.1 L375.4,327.3 L376.7,327.1 Z" fill="#fff" stroke="#000" stroke-width="1.3" stroke-linejoin="round" stroke-linecap="round"/>
<path d="M383.6,329.4 L382.7,329.2 L381.7,329.3 L380.6,329.7 L379.4,330.5 L378.1,331.6 L376.9,332.9 L375.6,334.4 L374.5,336.2 L373.3,338.1 L372.3,340.2 L371.5,342.2 L370.7,344.3 L370.2,346.4 L369.8,348.3 L369.6,350.2 L369.6,351.8 L369.9,353.2 L370.3,354.3 L370.8,355.2 L371.6,355.7" fill="none" stroke="#000" stroke-width="1" stroke-linejoin="round" stroke-linecap="round"/>
<path d="M389.7,331.9 L388.8,331.7 L387.7,331.8 L386.6,332.2 L385.4,333 L384.1,334.1 L382.8,335.4 L381.6,337 L380.3,338.8 L379.2,340.8 L378.2,342.8 L377.3,345 L376.6,347.1 L376,349.2 L375.6,351.2 L375.4,353 L375.4,354.7 L375.7,356.1 L376.1,357.3 L376.7,358.1 L377.4,358.7" fill="none" stroke="#000" stroke-width="1" stroke-linejoin="round" stroke-linecap="round"/>
<path d="M394.7,334.8 L393.8,334.6 L392.8,334.7 L391.7,335.1 L390.5,335.8 L389.3,336.9 L388.1,338.2 L386.9,339.7 L385.7,341.4 L384.6,343.3 L383.6,345.3 L382.8,347.4 L382.1,349.4 L381.5,351.4 L381.2,353.4 L381,355.1 L381,356.7 L381.2,358.1 L381.6,359.2 L382.2,360.1 L382.9,360.6" fill="none" stroke="#000" stroke-width="1" stroke-linejoin="round" stroke-linecap="round"/>
<path d="M398.7,338 L397.9,337.8 L397,337.9 L396,338.3 L394.9,338.9 L393.8,339.9 L392.7,341.1 L391.6,342.5 L390.5,344.1 L389.5,345.8 L388.6,347.6 L387.8,349.5 L387.2,351.4 L386.7,353.2 L386.4,354.9 L386.2,356.6 L386.2,358 L386.4,359.3 L386.8,360.3 L387.3,361.1 L388,361.6" fill="none" stroke="#000" stroke-width="1" stroke-linejoin="round" stroke-linecap="round"/>
<path d="M402.2,341.6 L401.5,341.4 L400.7,341.5 L399.8,341.8 L398.9,342.4 L398,343.2 L397,344.2 L396,345.4 L395.1,346.8 L394.3,348.3 L393.5,349.8 L392.8,351.4 L392.3,353 L391.8,354.6 L391.6,356.1 L391.4,357.5 L391.4,358.8 L391.6,359.9 L391.9,360.7 L392.4,361.4 L392.9,361.8" fill="none" stroke="#000" stroke-width="1" stroke-linejoin="round" stroke-linecap="round"/>
<path d="M404.8,345.1 L404.2,344.9 L403.6,345 L402.9,345.3 L402.2,345.7 L401.4,346.4 L400.6,347.2 L399.8,348.2 L399.1,349.3 L398.4,350.5 L397.8,351.8 L397.2,353.1 L396.8,354.4 L396.4,355.7 L396.2,356.9 L396.1,358 L396.1,359 L396.2,359.9 L396.5,360.6 L396.8,361.2 L397.3,361.5" fill="none" stroke="#000" stroke-width="1" stroke-linejoin="round" stroke-linecap="round"/>
<path d="M406.9,348.8 L406.5,348.7 L406,348.8 L405.5,349 L405,349.3 L404.4,349.8 L403.9,350.4 L403.3,351.1 L402.8,351.9 L402.3,352.7 L401.8,353.6 L401.5,354.6 L401.1,355.5 L400.9,356.4 L400.7,357.3 L400.6,358.1 L400.6,358.8 L400.7,359.5 L400.9,360 L401.2,360.4 L401.5,360.6" fill="none" stroke="#000" stroke-width="1" stroke-linejoin="round" stroke-linecap="round"/>
<path d="M380.7,318.3 C380.8,318.9 380.8,319.5 380.8,320 C380.9,320.5 381,320.9 381.2,321.3 C381.3,321.7 381.5,322 381.8,322.2 C382,322.5 382.4,322.6 382.7,322.9 C383,323.2 383.4,323.4 383.6,323.8 C383.8,324.2 383.9,324.8 383.9,325.5 C383.8,326.1 383.5,327 383.1,327.9 C382.7,328.7 382.1,329.6 381.6,330.5 C381.1,331.3 380.6,332.1 380.1,332.8 C379.7,333.6 379.3,334.2 379,334.9 C378.6,335.6 378.3,336.3 378.1,337 C377.8,337.8 377.6,338.5 377.3,339.3 C377,340.2 376.7,341.1 376.3,341.9 C375.9,342.8 375.4,343.7 374.8,344.4 C374.3,345.1 373.6,345.7 373,346.2 C372.4,346.7 371.8,346.9 371.2,347.2 C370.6,347.4 370.1,347.5 369.6,347.8 C369.1,348 368.6,348.3 368.1,348.6 C367.6,349 367.1,349.3 366.6,349.8 C366.1,350.3 365.5,350.9 364.9,351.4 C364.3,352 363.5,352.7 362.9,353.1 C362.3,353.6 361.7,353.9 361.2,353.9 C360.8,354 360.4,353.7 360.2,353.3 C360,353 359.9,352.3 359.9,351.7 C359.8,351.1 359.8,350.5 359.8,350 C359.7,349.5 359.6,349.1 359.4,348.7 C359.3,348.3 359.1,348 358.8,347.8 C358.6,347.5 358.2,347.4 357.9,347.1 C357.6,346.8 357.2,346.6 357,346.2 C356.8,345.8 356.7,345.2 356.7,344.5 C356.8,343.9 357.1,343 357.5,342.1 C357.9,341.3 358.5,340.4 359,339.5 C359.5,338.7 360,337.9 360.5,337.2 C360.9,336.4 361.3,335.8 361.6,335.1 C362,334.4 362.3,333.7 362.5,333 C362.8,332.2 363,331.5 363.3,330.7 C363.6,329.8 363.9,328.9 364.3,328.1 C364.7,327.2 365.2,326.3 365.8,325.6 C366.3,324.9 367,324.3 367.6,323.8 C368.2,323.3 368.8,323.1 369.4,322.8 C370,322.6 370.5,322.5 371,322.2 C371.5,322 372,321.7 372.5,321.4 C373,321 373.5,320.7 374,320.2 C374.5,319.7 375.1,319.1 375.7,318.6 C376.3,318 377.1,317.3 377.7,316.9 C378.3,316.4 378.9,316.1 379.4,316.1 C379.8,316 380.2,316.3 380.4,316.7 C380.6,317 380.7,317.7 380.7,318.3 Z" fill="#fff" stroke="#000" stroke-width="1.3" stroke-linejoin="round" stroke-linecap="round"/>
<path d="M378.1,322.4 L378.9,323.3 L379.4,324.5 L379.5,326.2 L379.2,328.2 L378.6,330.5 L377.7,332.9 L376.5,335.5 L375,338 L373.4,340.4 L371.7,342.5 L369.9,344.4 L368.1,346 L366.4,347.1 L364.9,347.7 L363.5,347.9 L362.5,347.6 L361.7,346.7 L361.2,345.5 L361.1,343.8 L361.4,341.8 L362,339.5 L362.9,337.1 L364.1,334.5 L365.6,332 L367.2,329.6 L368.9,327.5 L370.7,325.6 L372.5,324 L374.2,322.9 L375.7,322.3 L377.1,322.1 Z" fill="none" stroke="#000" stroke-width="0.8" stroke-linejoin="round" stroke-linecap="round"/>
<ellipse cx="378" cy="319.2" rx="1.1" ry="0.8" transform="rotate(-50 378 319.2)" fill="none" stroke="#000" stroke-width="0.8"/>
<ellipse cx="381.5" cy="327.2" rx="1.1" ry="0.8" transform="rotate(-50 381.5 327.2)" fill="none" stroke="#000" stroke-width="0.8"/>
<ellipse cx="373.8" cy="343" rx="1.1" ry="0.8" transform="rotate(-50 373.8 343)" fill="none" stroke="#000" stroke-width="0.8"/>
<ellipse cx="362.6" cy="350.8" rx="1.1" ry="0.8" transform="rotate(-50 362.6 350.8)" fill="none" stroke="#000" stroke-width="0.8"/>
<ellipse cx="359.1" cy="342.8" rx="1.1" ry="0.8" transform="rotate(-50 359.1 342.8)" fill="none" stroke="#000" stroke-width="0.8"/>
<ellipse cx="366.8" cy="327" rx="1.1" ry="0.8" transform="rotate(-50 366.8 327)" fill="none" stroke="#000" stroke-width="0.8"/>
<path d="M438.4,372.1 L439.8,372.2 L441.1,372.2 L442.5,372.3 L443.8,372.4 L445.1,372.5 L446.4,372.7 L447.7,372.9 L449,373.1 L450.3,373.3 L451.5,373.5 L452.8,373.7 L454.1,373.9 L455.3,374.2 L456.6,374.4 L457.8,374.7 L459,375 L460.3,375.2 L461.5,375.5 L462.7,375.8 L463.9,376.2 L465.1,376.5 L466.3,376.8 L467.5,377.2 L468.7,377.6 L469.9,378 L471,378.4 L472.2,378.8 L473.3,379.3 L474.4,379.8 L475.5,380.4 L476.5,381.1 L477.5,381.8 L478.5,382.5 L479.4,383.3 L480.3,384.3 L481.1,385.3 L481.8,386.5 L482.6,387.6 L483.3,388.8 L484.1,389.9 L484.8,390.6 L485.4,391.7 L485.6,393 L485.6,394.7 L485.4,396.5 L484.8,398.5 L484,400.5 L483,402.5 L481.9,404.4 L480.6,406.2 L479.2,407.7 L477.8,408.9 L476.4,409.8 L475.1,410.3 L473.9,410.4 L472.9,410.1 L471.6,410 L470.2,410 L468.8,410 L467.4,410 L466.1,409.8 L464.9,409.6 L463.7,409.3 L462.5,408.8 L461.4,408.4 L460.3,407.8 L459.2,407.2 L458.2,406.6 L457.2,405.9 L456.2,405.2 L455.2,404.4 L454.3,403.6 L453.3,402.8 L452.4,402 L451.5,401.2 L450.6,400.3 L449.7,399.5 L448.7,398.6 L447.8,397.7 L447,396.8 L446.1,395.9 L445.2,395 L444.3,394.1 L443.4,393.2 L442.6,392.2 L441.7,391.3 L440.9,390.3 L440,389.3 L439.2,388.3 L438.3,387.3 L437.5,386.3 L436.7,385.3 L435.9,384.2 L435.1,383.1 L434.4,382 L433.6,380.9 L433.2,380.6 L433,380.1 L432.9,379.5 L432.9,378.8 L433,378 L433.3,377.2 L433.6,376.3 L434,375.4 L434.5,374.6 L435.1,373.8 L435.7,373.2 L436.3,372.6 L436.9,372.3 L437.5,372 L438,372 Z" fill="#fff" stroke="#000" stroke-width="1.3" stroke-linejoin="round" stroke-linecap="round"/>
<path d="M442.1,372.4 L441.7,372.3 L441.2,372.3 L440.7,372.5 L440.1,372.8 L439.5,373.2 L438.9,373.7 L438.3,374.4 L437.7,375.1 L437.1,375.9 L436.6,376.8 L436.1,377.7 L435.7,378.6 L435.4,379.6 L435.2,380.4 L435.1,381.2 L435,382 L435.1,382.6 L435.2,383.2 L435.5,383.6 L435.8,383.8" fill="none" stroke="#000" stroke-width="1" stroke-linejoin="round" stroke-linecap="round"/>
<path d="M447.3,373.1 L446.8,372.9 L446.2,372.9 L445.5,373.1 L444.7,373.5 L443.9,374 L443.1,374.7 L442.3,375.6 L441.5,376.6 L440.8,377.6 L440.1,378.8 L439.5,380 L439,381.1 L438.6,382.3 L438.3,383.5 L438.1,384.5 L438.1,385.5 L438.2,386.3 L438.4,387 L438.7,387.5 L439.1,387.9" fill="none" stroke="#000" stroke-width="1" stroke-linejoin="round" stroke-linecap="round"/>
<path d="M452.9,374 L452.2,373.8 L451.5,373.8 L450.6,374.1 L449.7,374.5 L448.8,375.2 L447.8,376.1 L446.8,377.1 L445.8,378.3 L444.9,379.6 L444.1,381 L443.4,382.4 L442.7,383.9 L442.2,385.3 L441.9,386.7 L441.7,388 L441.6,389.2 L441.7,390.2 L442,391 L442.4,391.7 L442.9,392.1" fill="none" stroke="#000" stroke-width="1" stroke-linejoin="round" stroke-linecap="round"/>
<path d="M458.4,375.2 L457.6,374.9 L456.7,374.9 L455.7,375.2 L454.7,375.7 L453.6,376.5 L452.4,377.5 L451.3,378.7 L450.2,380.1 L449.1,381.6 L448.2,383.2 L447.3,384.9 L446.6,386.6 L446,388.3 L445.6,389.9 L445.4,391.4 L445.3,392.7 L445.4,393.9 L445.7,394.9 L446.2,395.6 L446.8,396.2" fill="none" stroke="#000" stroke-width="1" stroke-linejoin="round" stroke-linecap="round"/>
<path d="M463.7,376.5 L462.9,376.2 L461.9,376.3 L460.8,376.6 L459.6,377.2 L458.4,378 L457.1,379.2 L455.8,380.5 L454.6,382 L453.4,383.7 L452.3,385.5 L451.4,387.4 L450.6,389.3 L449.9,391.1 L449.5,392.9 L449.2,394.6 L449.1,396.1 L449.2,397.5 L449.6,398.6 L450.1,399.4 L450.8,400" fill="none" stroke="#000" stroke-width="1" stroke-linejoin="round" stroke-linecap="round"/>
<path d="M469,378.1 L468,377.8 L467,377.8 L465.8,378.2 L464.5,378.8 L463.1,379.7 L461.7,381 L460.4,382.4 L459,384.1 L457.7,385.9 L456.6,387.9 L455.5,389.9 L454.7,392 L454,394 L453.5,395.9 L453.2,397.7 L453.1,399.4 L453.2,400.8 L453.6,402 L454.1,402.9 L454.9,403.6" fill="none" stroke="#000" stroke-width="1" stroke-linejoin="round" stroke-linecap="round"/>
<path d="M473.9,380.1 L473,379.8 L471.9,379.8 L470.6,380.2 L469.3,380.9 L467.8,381.8 L466.4,383.1 L465,384.6 L463.6,386.4 L462.2,388.3 L461,390.3 L459.9,392.5 L459,394.6 L458.3,396.7 L457.8,398.7 L457.5,400.6 L457.4,402.4 L457.5,403.9 L457.9,405.1 L458.5,406.1 L459.3,406.7" fill="none" stroke="#000" stroke-width="1" stroke-linejoin="round" stroke-linecap="round"/>
<path d="M477.7,384.5 L476.8,384.1 L475.7,384.1 L474.6,384.4 L473.4,385 L472.1,385.8 L470.8,386.9 L469.5,388.2 L468.3,389.7 L467.1,391.4 L466.1,393.1 L465.1,395 L464.4,396.8 L463.7,398.7 L463.3,400.5 L463.1,402.1 L463.1,403.7 L463.2,405 L463.6,406.1 L464.2,407 L464.9,407.6" fill="none" stroke="#000" stroke-width="1" stroke-linejoin="round" stroke-linecap="round"/>
<path d="M479.9,389.4 L479.3,389.1 L478.5,389.1 L477.6,389.3 L476.7,389.8 L475.7,390.4 L474.8,391.2 L473.8,392.2 L472.8,393.3 L472,394.6 L471.2,395.9 L470.5,397.3 L469.9,398.8 L469.4,400.2 L469.1,401.5 L468.9,402.8 L468.9,403.9 L469,404.9 L469.3,405.8 L469.7,406.4 L470.3,406.9" fill="none" stroke="#000" stroke-width="1" stroke-linejoin="round" stroke-linecap="round"/>
<path d="M481.9,393.9 L481.4,393.7 L480.9,393.7 L480.3,393.8 L479.6,394.1 L478.9,394.6 L478.3,395.2 L477.6,395.9 L476.9,396.7 L476.3,397.5 L475.7,398.5 L475.2,399.5 L474.8,400.4 L474.5,401.4 L474.3,402.4 L474.2,403.3 L474.1,404.1 L474.2,404.8 L474.4,405.4 L474.7,405.8 L475.1,406.1" fill="none" stroke="#000" stroke-width="1" stroke-linejoin="round" stroke-linecap="round"/>
<polygon points="479.2,397.3 505.8,412.8 502.2,419.8 475.6,404.3" fill="#fff" stroke="#000" stroke-width="1.3" stroke-linejoin="round"/>
<ellipse cx="504" cy="416.3" rx="1.8" ry="3.6" transform="rotate(-60 504 416.3)" fill="#fff" stroke="#000" stroke-width="1.3"/>
<path d="M490,403.8 L486.5,410.6 M492.2,405.1 L488.7,411.9" fill="none" stroke="#000" stroke-width="1" stroke-linejoin="round" stroke-linecap="round"/>
<path d="M482.4,396.9 L482.1,396.8 L481.8,396.8 L481.4,396.9 L480.9,397.1 L480.5,397.4 L480,397.8 L479.6,398.2 L479.2,398.7 L478.8,399.3 L478.4,399.9 L478.1,400.6 L477.8,401.2 L477.6,401.9 L477.4,402.5 L477.3,403.1 L477.3,403.6 L477.4,404.1 L477.5,404.5 L477.7,404.8 L478,405" fill="none" stroke="#000" stroke-width="1.2" stroke-linejoin="round" stroke-linecap="round"/>
<polygon points="405,352.5 439,371.5 436.2,377.3 402.2,358.3" fill="#fff" stroke="#000" stroke-width="1.3" stroke-linejoin="round"/>
<path d="M377.8,327.3 L378.7,327.6 L379.7,327.8 L380.6,328.1 L381.6,328.3 L382.5,328.6 L383.4,328.9 L384.4,329.2 L385.3,329.5 L386.2,329.8 L387.1,330.2 L388,330.6 L388.8,331 L389.7,331.4 L390.6,331.8 L391.4,332.3 L392.2,332.7 L393.1,333.2 L393.9,333.7 L394.7,334.3 L395.5,334.8 L396.3,335.4 L397.1,336 L397.9,336.6 L398.6,337.3 L399.3,338 L400.1,338.8 L400.8,339.5 L401.5,340.3 L402.2,341.1 L402.9,341.9 L403.5,342.8 L404.2,343.7 L404.8,344.6 L405.4,345.6 L406,346.6 L406.6,347.7 L407.1,348.9 L407.5,350.2 L408,351.5 L408.5,352.8 L408.7,353 L408.8,353.3 L408.9,353.7 L408.9,354.2 L408.9,354.7 L408.7,355.3 L408.5,355.9 L408.3,356.6 L408,357.2 L407.6,357.8 L407.3,358.3 L406.9,358.7 L406.5,359 L406.1,359.2 L405.8,359.2 L405.5,359.2 L404.3,359.7 L403,360.2 L401.7,360.7 L400.4,361.1 L399.2,361.4 L398.1,361.6 L396.9,361.8 L395.8,361.9 L394.7,362 L393.6,362.1 L392.6,362.1 L391.5,362.1 L390.5,362.1 L389.4,362 L388.4,362 L387.4,361.9 L386.4,361.8 L385.4,361.6 L384.4,361.4 L383.5,361.2 L382.5,360.9 L381.6,360.7 L380.7,360.4 L379.8,360.1 L378.8,359.7 L377.9,359.4 L377.1,359 L376.2,358.6 L375.3,358.2 L374.4,357.8 L373.6,357.4 L372.7,356.9 L371.9,356.4 L371.1,355.9 L370.3,355.4 L369.4,354.9 L368.6,354.3 L367.8,353.8 L367,353.2 L366.2,352.7 L365.3,352 L364.7,350.9 L364.3,349.3 L364.3,347.4 L364.5,345.1 L365.1,342.7 L365.9,340.2 L366.9,337.7 L368.1,335.2 L369.5,333 L371,331 L372.5,329.4 L374,328.1 L375.4,327.3 L376.7,327.1 Z" fill="#fff" stroke="#000" stroke-width="1.3" stroke-linejoin="round" stroke-linecap="round"/>
<path d="M383.6,329.4 L382.7,329.2 L381.7,329.3 L380.6,329.7 L379.4,330.5 L378.1,331.6 L376.9,332.9 L375.6,334.4 L374.5,336.2 L373.3,338.1 L372.3,340.2 L371.5,342.2 L370.7,344.3 L370.2,346.4 L369.8,348.3 L369.6,350.2 L369.6,351.8 L369.9,353.2 L370.3,354.3 L370.8,355.2 L371.6,355.7" fill="none" stroke="#000" stroke-width="1" stroke-linejoin="round" stroke-linecap="round"/>
<path d="M389.7,331.9 L388.8,331.7 L387.7,331.8 L386.6,332.2 L385.4,333 L384.1,334.1 L382.8,335.4 L381.6,337 L380.3,338.8 L379.2,340.8 L378.2,342.8 L377.3,345 L376.6,347.1 L376,349.2 L375.6,351.2 L375.4,353 L375.4,354.7 L375.7,356.1 L376.1,357.3 L376.7,358.1 L377.4,358.7" fill="none" stroke="#000" stroke-width="1" stroke-linejoin="round" stroke-linecap="round"/>
<path d="M394.7,334.8 L393.8,334.6 L392.8,334.7 L391.7,335.1 L390.5,335.8 L389.3,336.9 L388.1,338.2 L386.9,339.7 L385.7,341.4 L384.6,343.3 L383.6,345.3 L382.8,347.4 L382.1,349.4 L381.5,351.4 L381.2,353.4 L381,355.1 L381,356.7 L381.2,358.1 L381.6,359.2 L382.2,360.1 L382.9,360.6" fill="none" stroke="#000" stroke-width="1" stroke-linejoin="round" stroke-linecap="round"/>
<path d="M398.7,338 L397.9,337.8 L397,337.9 L396,338.3 L394.9,338.9 L393.8,339.9 L392.7,341.1 L391.6,342.5 L390.5,344.1 L389.5,345.8 L388.6,347.6 L387.8,349.5 L387.2,351.4 L386.7,353.2 L386.4,354.9 L386.2,356.6 L386.2,358 L386.4,359.3 L386.8,360.3 L387.3,361.1 L388,361.6" fill="none" stroke="#000" stroke-width="1" stroke-linejoin="round" stroke-linecap="round"/>
<path d="M402.2,341.6 L401.5,341.4 L400.7,341.5 L399.8,341.8 L398.9,342.4 L398,343.2 L397,344.2 L396,345.4 L395.1,346.8 L394.3,348.3 L393.5,349.8 L392.8,351.4 L392.3,353 L391.8,354.6 L391.6,356.1 L391.4,357.5 L391.4,358.8 L391.6,359.9 L391.9,360.7 L392.4,361.4 L392.9,361.8" fill="none" stroke="#000" stroke-width="1" stroke-linejoin="round" stroke-linecap="round"/>
<path d="M404.8,345.1 L404.2,344.9 L403.6,345 L402.9,345.3 L402.2,345.7 L401.4,346.4 L400.6,347.2 L399.8,348.2 L399.1,349.3 L398.4,350.5 L397.8,351.8 L397.2,353.1 L396.8,354.4 L396.4,355.7 L396.2,356.9 L396.1,358 L396.1,359 L396.2,359.9 L396.5,360.6 L396.8,361.2 L397.3,361.5" fill="none" stroke="#000" stroke-width="1" stroke-linejoin="round" stroke-linecap="round"/>
<path d="M406.9,348.8 L406.5,348.7 L406,348.8 L405.5,349 L405,349.3 L404.4,349.8 L403.9,350.4 L403.3,351.1 L402.8,351.9 L402.3,352.7 L401.8,353.6 L401.5,354.6 L401.1,355.5 L400.9,356.4 L400.7,357.3 L400.6,358.1 L400.6,358.8 L400.7,359.5 L400.9,360 L401.2,360.4 L401.5,360.6" fill="none" stroke="#000" stroke-width="1" stroke-linejoin="round" stroke-linecap="round"/>
<path d="M380.7,318.3 C380.8,318.9 380.8,319.5 380.8,320 C380.9,320.5 381,320.9 381.2,321.3 C381.3,321.7 381.5,322 381.8,322.2 C382,322.5 382.4,322.6 382.7,322.9 C383,323.2 383.4,323.4 383.6,323.8 C383.8,324.2 383.9,324.8 383.9,325.5 C383.8,326.1 383.5,327 383.1,327.9 C382.7,328.7 382.1,329.6 381.6,330.5 C381.1,331.3 380.6,332.1 380.1,332.8 C379.7,333.6 379.3,334.2 379,334.9 C378.6,335.6 378.3,336.3 378.1,337 C377.8,337.8 377.6,338.5 377.3,339.3 C377,340.2 376.7,341.1 376.3,341.9 C375.9,342.8 375.4,343.7 374.8,344.4 C374.3,345.1 373.6,345.7 373,346.2 C372.4,346.7 371.8,346.9 371.2,347.2 C370.6,347.4 370.1,347.5 369.6,347.8 C369.1,348 368.6,348.3 368.1,348.6 C367.6,349 367.1,349.3 366.6,349.8 C366.1,350.3 365.5,350.9 364.9,351.4 C364.3,352 363.5,352.7 362.9,353.1 C362.3,353.6 361.7,353.9 361.2,353.9 C360.8,354 360.4,353.7 360.2,353.3 C360,353 359.9,352.3 359.9,351.7 C359.8,351.1 359.8,350.5 359.8,350 C359.7,349.5 359.6,349.1 359.4,348.7 C359.3,348.3 359.1,348 358.8,347.8 C358.6,347.5 358.2,347.4 357.9,347.1 C357.6,346.8 357.2,346.6 357,346.2 C356.8,345.8 356.7,345.2 356.7,344.5 C356.8,343.9 357.1,343 357.5,342.1 C357.9,341.3 358.5,340.4 359,339.5 C359.5,338.7 360,337.9 360.5,337.2 C360.9,336.4 361.3,335.8 361.6,335.1 C362,334.4 362.3,333.7 362.5,333 C362.8,332.2 363,331.5 363.3,330.7 C363.6,329.8 363.9,328.9 364.3,328.1 C364.7,327.2 365.2,326.3 365.8,325.6 C366.3,324.9 367,324.3 367.6,323.8 C368.2,323.3 368.8,323.1 369.4,322.8 C370,322.6 370.5,322.5 371,322.2 C371.5,322 372,321.7 372.5,321.4 C373,321 373.5,320.7 374,320.2 C374.5,319.7 375.1,319.1 375.7,318.6 C376.3,318 377.1,317.3 377.7,316.9 C378.3,316.4 378.9,316.1 379.4,316.1 C379.8,316 380.2,316.3 380.4,316.7 C380.6,317 380.7,317.7 380.7,318.3 Z" fill="#fff" stroke="#000" stroke-width="1.3" stroke-linejoin="round" stroke-linecap="round"/>
<path d="M378.1,322.4 L378.9,323.3 L379.4,324.5 L379.5,326.2 L379.2,328.2 L378.6,330.5 L377.7,332.9 L376.5,335.5 L375,338 L373.4,340.4 L371.7,342.5 L369.9,344.4 L368.1,346 L366.4,347.1 L364.9,347.7 L363.5,347.9 L362.5,347.6 L361.7,346.7 L361.2,345.5 L361.1,343.8 L361.4,341.8 L362,339.5 L362.9,337.1 L364.1,334.5 L365.6,332 L367.2,329.6 L368.9,327.5 L370.7,325.6 L372.5,324 L374.2,322.9 L375.7,322.3 L377.1,322.1 Z" fill="none" stroke="#000" stroke-width="0.8" stroke-linejoin="round" stroke-linecap="round"/>
<ellipse cx="378" cy="319.2" rx="1.1" ry="0.8" transform="rotate(-50 378 319.2)" fill="none" stroke="#000" stroke-width="0.8"/>
<ellipse cx="381.5" cy="327.2" rx="1.1" ry="0.8" transform="rotate(-50 381.5 327.2)" fill="none" stroke="#000" stroke-width="0.8"/>
<ellipse cx="373.8" cy="343" rx="1.1" ry="0.8" transform="rotate(-50 373.8 343)" fill="none" stroke="#000" stroke-width="0.8"/>
<ellipse cx="362.6" cy="350.8" rx="1.1" ry="0.8" transform="rotate(-50 362.6 350.8)" fill="none" stroke="#000" stroke-width="0.8"/>
<ellipse cx="359.1" cy="342.8" rx="1.1" ry="0.8" transform="rotate(-50 359.1 342.8)" fill="none" stroke="#000" stroke-width="0.8"/>
<ellipse cx="366.8" cy="327" rx="1.1" ry="0.8" transform="rotate(-50 366.8 327)" fill="none" stroke="#000" stroke-width="0.8"/>
<path d="M438.4,372.1 L439.8,372.2 L441.1,372.2 L442.5,372.3 L443.8,372.4 L445.1,372.5 L446.4,372.7 L447.7,372.9 L449,373.1 L450.3,373.3 L451.5,373.5 L452.8,373.7 L454.1,373.9 L455.3,374.2 L456.6,374.4 L457.8,374.7 L459,375 L460.3,375.2 L461.5,375.5 L462.7,375.8 L463.9,376.2 L465.1,376.5 L466.3,376.8 L467.5,377.2 L468.7,377.6 L469.9,378 L471,378.4 L472.2,378.8 L473.3,379.3 L474.4,379.8 L475.5,380.4 L476.5,381.1 L477.5,381.8 L478.5,382.5 L479.4,383.3 L480.3,384.3 L481.1,385.3 L481.8,386.5 L482.6,387.6 L483.3,388.8 L484.1,389.9 L484.8,390.6 L485.4,391.7 L485.6,393 L485.6,394.7 L485.4,396.5 L484.8,398.5 L484,400.5 L483,402.5 L481.9,404.4 L480.6,406.2 L479.2,407.7 L477.8,408.9 L476.4,409.8 L475.1,410.3 L473.9,410.4 L472.9,410.1 L471.6,410 L470.2,410 L468.8,410 L467.4,410 L466.1,409.8 L464.9,409.6 L463.7,409.3 L462.5,408.8 L461.4,408.4 L460.3,407.8 L459.2,407.2 L458.2,406.6 L457.2,405.9 L456.2,405.2 L455.2,404.4 L454.3,403.6 L453.3,402.8 L452.4,402 L451.5,401.2 L450.6,400.3 L449.7,399.5 L448.7,398.6 L447.8,397.7 L447,396.8 L446.1,395.9 L445.2,395 L444.3,394.1 L443.4,393.2 L442.6,392.2 L441.7,391.3 L440.9,390.3 L440,389.3 L439.2,388.3 L438.3,387.3 L437.5,386.3 L436.7,385.3 L435.9,384.2 L435.1,383.1 L434.4,382 L433.6,380.9 L433.2,380.6 L433,380.1 L432.9,379.5 L432.9,378.8 L433,378 L433.3,377.2 L433.6,376.3 L434,375.4 L434.5,374.6 L435.1,373.8 L435.7,373.2 L436.3,372.6 L436.9,372.3 L437.5,372 L438,372 Z" fill="#fff" stroke="#000" stroke-width="1.3" stroke-linejoin="round" stroke-linecap="round"/>
<path d="M442.1,372.4 L441.7,372.3 L441.2,372.3 L440.7,372.5 L440.1,372.8 L439.5,373.2 L438.9,373.7 L438.3,374.4 L437.7,375.1 L437.1,375.9 L436.6,376.8 L436.1,377.7 L435.7,378.6 L435.4,379.6 L435.2,380.4 L435.1,381.2 L435,382 L435.1,382.6 L435.2,383.2 L435.5,383.6 L435.8,383.8" fill="none" stroke="#000" stroke-width="1" stroke-linejoin="round" stroke-linecap="round"/>
<path d="M447.3,373.1 L446.8,372.9 L446.2,372.9 L445.5,373.1 L444.7,373.5 L443.9,374 L443.1,374.7 L442.3,375.6 L441.5,376.6 L440.8,377.6 L440.1,378.8 L439.5,380 L439,381.1 L438.6,382.3 L438.3,383.5 L438.1,384.5 L438.1,385.5 L438.2,386.3 L438.4,387 L438.7,387.5 L439.1,387.9" fill="none" stroke="#000" stroke-width="1" stroke-linejoin="round" stroke-linecap="round"/>
<path d="M452.9,374 L452.2,373.8 L451.5,373.8 L450.6,374.1 L449.7,374.5 L448.8,375.2 L447.8,376.1 L446.8,377.1 L445.8,378.3 L444.9,379.6 L444.1,381 L443.4,382.4 L442.7,383.9 L442.2,385.3 L441.9,386.7 L441.7,388 L441.6,389.2 L441.7,390.2 L442,391 L442.4,391.7 L442.9,392.1" fill="none" stroke="#000" stroke-width="1" stroke-linejoin="round" stroke-linecap="round"/>
<path d="M458.4,375.2 L457.6,374.9 L456.7,374.9 L455.7,375.2 L454.7,375.7 L453.6,376.5 L452.4,377.5 L451.3,378.7 L450.2,380.1 L449.1,381.6 L448.2,383.2 L447.3,384.9 L446.6,386.6 L446,388.3 L445.6,389.9 L445.4,391.4 L445.3,392.7 L445.4,393.9 L445.7,394.9 L446.2,395.6 L446.8,396.2" fill="none" stroke="#000" stroke-width="1" stroke-linejoin="round" stroke-linecap="round"/>
<path d="M463.7,376.5 L462.9,376.2 L461.9,376.3 L460.8,376.6 L459.6,377.2 L458.4,378 L457.1,379.2 L455.8,380.5 L454.6,382 L453.4,383.7 L452.3,385.5 L451.4,387.4 L450.6,389.3 L449.9,391.1 L449.5,392.9 L449.2,394.6 L449.1,396.1 L449.2,397.5 L449.6,398.6 L450.1,399.4 L450.8,400" fill="none" stroke="#000" stroke-width="1" stroke-linejoin="round" stroke-linecap="round"/>
<path d="M469,378.1 L468,377.8 L467,377.8 L465.8,378.2 L464.5,378.8 L463.1,379.7 L461.7,381 L460.4,382.4 L459,384.1 L457.7,385.9 L456.6,387.9 L455.5,389.9 L454.7,392 L454,394 L453.5,395.9 L453.2,397.7 L453.1,399.4 L453.2,400.8 L453.6,402 L454.1,402.9 L454.9,403.6" fill="none" stroke="#000" stroke-width="1" stroke-linejoin="round" stroke-linecap="round"/>
<path d="M473.9,380.1 L473,379.8 L471.9,379.8 L470.6,380.2 L469.3,380.9 L467.8,381.8 L466.4,383.1 L465,384.6 L463.6,386.4 L462.2,388.3 L461,390.3 L459.9,392.5 L459,394.6 L458.3,396.7 L457.8,398.7 L457.5,400.6 L457.4,402.4 L457.5,403.9 L457.9,405.1 L458.5,406.1 L459.3,406.7" fill="none" stroke="#000" stroke-width="1" stroke-linejoin="round" stroke-linecap="round"/>
<path d="M477.7,384.5 L476.8,384.1 L475.7,384.1 L474.6,384.4 L473.4,385 L472.1,385.8 L470.8,386.9 L469.5,388.2 L468.3,389.7 L467.1,391.4 L466.1,393.1 L465.1,395 L464.4,396.8 L463.7,398.7 L463.3,400.5 L463.1,402.1 L463.1,403.7 L463.2,405 L463.6,406.1 L464.2,407 L464.9,407.6" fill="none" stroke="#000" stroke-width="1" stroke-linejoin="round" stroke-linecap="round"/>
<path d="M479.9,389.4 L479.3,389.1 L478.5,389.1 L477.6,389.3 L476.7,389.8 L475.7,390.4 L474.8,391.2 L473.8,392.2 L472.8,393.3 L472,394.6 L471.2,395.9 L470.5,397.3 L469.9,398.8 L469.4,400.2 L469.1,401.5 L468.9,402.8 L468.9,403.9 L469,404.9 L469.3,405.8 L469.7,406.4 L470.3,406.9" fill="none" stroke="#000" stroke-width="1" stroke-linejoin="round" stroke-linecap="round"/>
<path d="M481.9,393.9 L481.4,393.7 L480.9,393.7 L480.3,393.8 L479.6,394.1 L478.9,394.6 L478.3,395.2 L477.6,395.9 L476.9,396.7 L476.3,397.5 L475.7,398.5 L475.2,399.5 L474.8,400.4 L474.5,401.4 L474.3,402.4 L474.2,403.3 L474.1,404.1 L474.2,404.8 L474.4,405.4 L474.7,405.8 L475.1,406.1" fill="none" stroke="#000" stroke-width="1" stroke-linejoin="round" stroke-linecap="round"/>
<polygon points="479.2,397.3 505.8,412.8 502.2,419.8 475.6,404.3" fill="#fff" stroke="#000" stroke-width="1.3" stroke-linejoin="round"/>
<ellipse cx="504" cy="416.3" rx="1.8" ry="3.6" transform="rotate(-60 504 416.3)" fill="#fff" stroke="#000" stroke-width="1.3"/>
<path d="M490,403.8 L486.5,410.6 M492.2,405.1 L488.7,411.9" fill="none" stroke="#000" stroke-width="1" stroke-linejoin="round" stroke-linecap="round"/>
<path d="M482.4,396.9 L482.1,396.8 L481.8,396.8 L481.4,396.9 L480.9,397.1 L480.5,397.4 L480,397.8 L479.6,398.2 L479.2,398.7 L478.8,399.3 L478.4,399.9 L478.1,400.6 L477.8,401.2 L477.6,401.9 L477.4,402.5 L477.3,403.1 L477.3,403.6 L477.4,404.1 L477.5,404.5 L477.7,404.8 L478,405" fill="none" stroke="#000" stroke-width="1.2" stroke-linejoin="round" stroke-linecap="round"/>
</g>
<g fill="none" stroke="#000" stroke-width="1.3">
<line x1="260" y1="100" x2="260" y2="118" marker-end="url(#ah)"/>
<line x1="197" y1="162.2" x2="215.5" y2="162.2" marker-end="url(#ah)"/>
<line x1="205.5" y1="261.8" x2="187" y2="261.8" marker-end="url(#ah)"/>
<path d="M270.4,254 V246.8"/>
<path d="M254.6,246.8 H286.7"/>
<line x1="254.6" y1="246.8" x2="254.6" y2="206.2" marker-end="url(#ah)"/>
<line x1="286.7" y1="246.8" x2="286.7" y2="227.3" marker-end="url(#ah)"/>
<line x1="386.7" y1="225.5" x2="386.7" y2="206.8" marker-end="url(#ah)"/>
<line x1="480.3" y1="239" x2="480.3" y2="220.8" marker-end="url(#ah)"/>
<path d="M321.5,308 V312.4"/>
<line x1="423.4" y1="342.5" x2="423.4" y2="361" marker-end="url(#ah)"/>
<line x1="387.5" y1="380.9" x2="387.5" y2="362.2" marker-end="url(#ah)"/>
<line x1="456" y1="426.9" x2="456" y2="407.8" marker-end="url(#ah)"/>
</g>
<g>
<text x="256" y="97.9">7</text>
<text x="184.2" y="172.2">5</text>
<text x="206.3" y="272.5">3</text>
<text x="262" y="275.5">4</text>
<text x="381.5" y="246.7">2</text>
<text x="474.5" y="261.3">6</text>
<path d="M324.0,322.0 L324.0,339.4 L322.0,339.4 L322.0,326.9 L318.1,326.9 L318.1,325.3 C320.6,325.3 321.4,324.4 322.1,322.0 Z" fill="#000"/>
<text x="417.8" y="340.4">8</text>
<text x="382" y="402.7">9</text>
<path d="M453.7,429.9 L453.7,447.6 L451.7,447.6 L451.7,434.8 L447.6,434.8 L447.6,433.2 C450.1,433.2 451.1,432.3 451.8,429.9 Z" fill="#000"/>
<text x="459" y="448.1">0</text>
</g>
</svg>
</body></html>
